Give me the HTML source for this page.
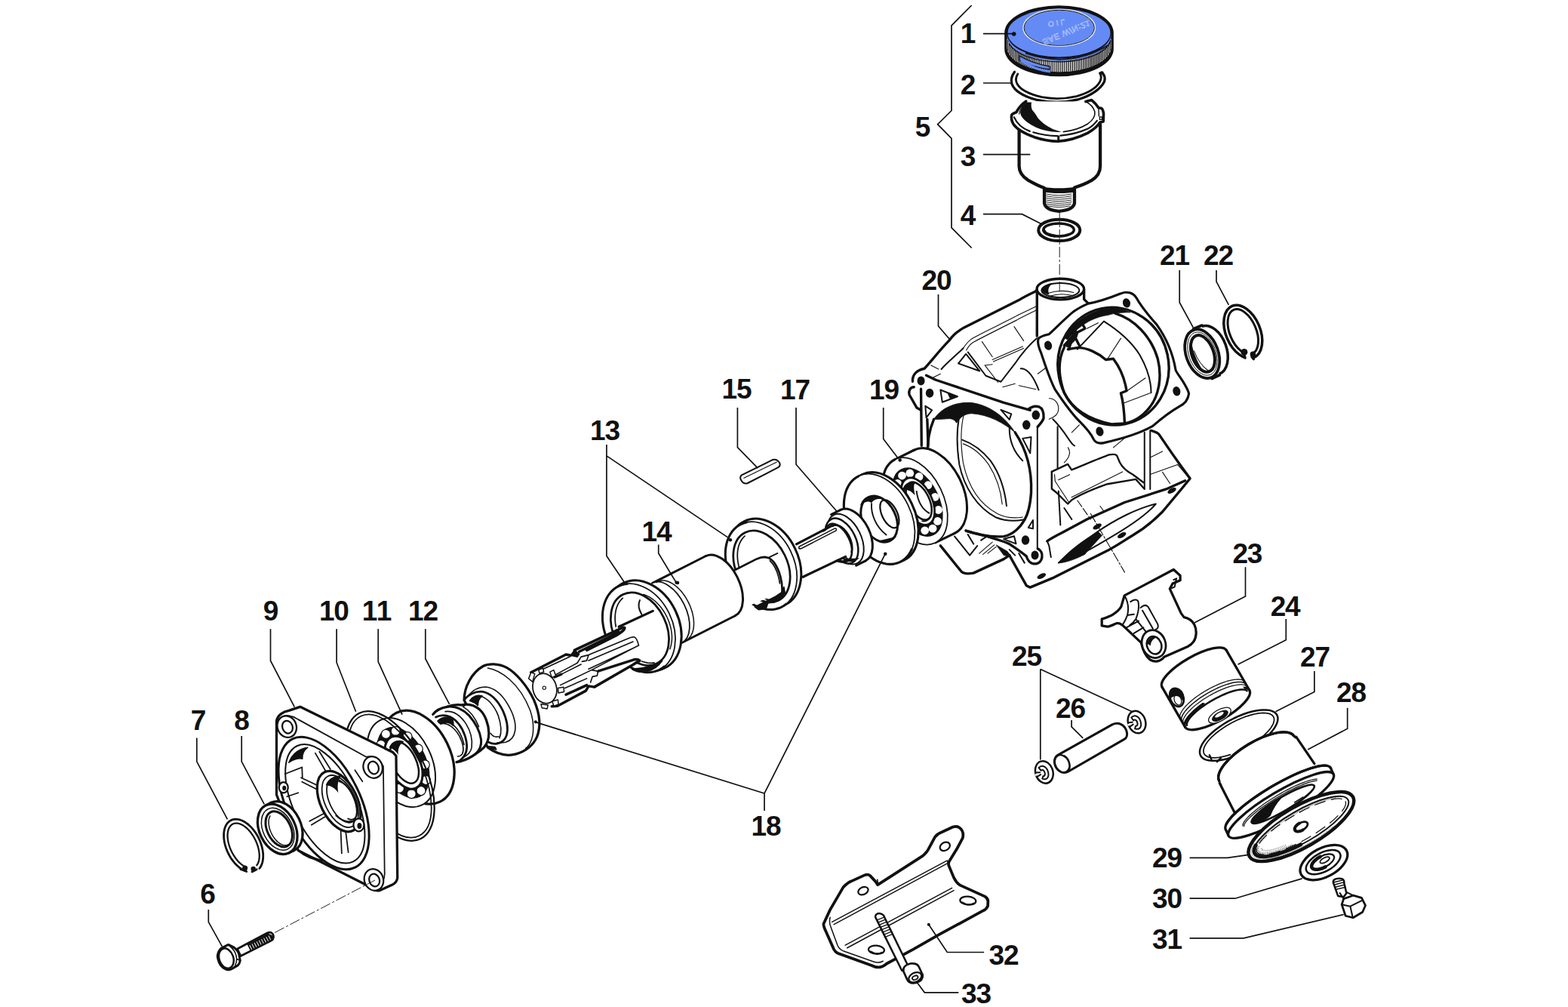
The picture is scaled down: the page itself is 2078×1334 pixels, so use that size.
<!DOCTYPE html>
<html lang="en">
<head>
<meta charset="utf-8">
<title>Exploded parts diagram</title>
<style>
html,body{margin:0;padding:0;background:#fff;}
body{width:2078px;height:1334px;overflow:hidden;}
svg{display:block;}
.k{fill:none;stroke:#111;stroke-width:2.6;stroke-linecap:round;stroke-linejoin:round;}
.m{fill:none;stroke:#111;stroke-width:1.8;stroke-linecap:round;stroke-linejoin:round;}
.t{fill:none;stroke:#111;stroke-width:1.1;stroke-linecap:round;stroke-linejoin:round;}
.l{fill:none;stroke:#111;stroke-width:1.7;stroke-linecap:butt;stroke-linejoin:miter;}
.w{fill:#fff;}
.K{fill:none;stroke:#111;stroke-width:13.5;stroke-linecap:round;stroke-linejoin:round;}
.M{fill:none;stroke:#111;stroke-width:8;stroke-linecap:round;stroke-linejoin:round;}
.T{fill:none;stroke:#111;stroke-width:4.5;stroke-linecap:round;stroke-linejoin:round;}
.W{fill:#fff;stroke:#111;stroke-width:12.5;stroke-linejoin:round;}
.WM{fill:#fff;stroke:#111;stroke-width:7.5;stroke-linejoin:round;}
.B{fill:#111;stroke:#111;stroke-width:3;stroke-linejoin:round;}
.H{fill:#111;stroke:none;}
.b{fill:#111;stroke:none;}
.c{fill:none;stroke:#222;stroke-width:1;stroke-dasharray:14 3 3 3;}
text{font-family:"Liberation Sans",sans-serif;font-weight:bold;font-size:37px;fill:#111;text-anchor:middle;letter-spacing:-1.2px;}
</style>
</head>
<body>
<svg width="2078" height="1334" viewBox="0 0 2078 1334">
<rect x="0" y="0" width="2078" height="1334" fill="#fff"/>
<!-- 10_cap.svg -->
<g id="cap1">
<path class="b" d="M1331.2,43.5 A72.3,36.3 0 0 1 1475.8,43.5 V65.0 A72.3,36.3 0 0 1 1331.2,65.0 Z"/>
<path fill="#fff" d="M1334.2,47.5 A69.3,33.3 0 0 0 1472.8,47.5 V62.0 A69.3,33.3 0 0 1 1334.2,62.0 Z"/>
<path d="M1335.2,53.1V67.6M1337.3,57.3V71.8M1339.4,60.1V74.6M1341.4,62.3V76.8M1343.5,64.2V78.7M1345.6,65.8V80.3M1347.7,67.2V81.7M1349.8,68.5V83.0M1351.8,69.7V84.2M1353.9,70.8V85.3M1356.0,71.7V86.2M1358.1,72.7V87.2M1360.2,73.5V88.0M1362.2,74.3V88.8M1364.3,75.0V89.5M1366.5,75.6V90.1M1368.7,76.3V90.8M1370.9,76.9V91.4M1373.2,77.5V92.0M1375.6,78.0V92.5M1377.9,78.5V93.0M1380.3,78.9V93.4M1382.8,79.3V93.8M1385.3,79.6V94.1M1387.8,79.9V94.4M1390.3,80.2V94.7M1392.9,80.4V94.9M1395.4,80.6V95.1M1398.0,80.7V95.2M1400.6,80.8V95.3M1403.2,80.8V95.3M1405.8,80.8V95.3M1408.4,80.7V95.2M1411.0,80.6V95.1M1413.6,80.4V94.9M1416.2,80.2V94.7M1418.7,80.0V94.5M1421.3,79.7V94.2M1423.8,79.3V93.8M1426.3,79.0V93.5M1428.7,78.5V93.0M1431.1,78.0V92.5M1433.5,77.5V92.0M1435.9,76.9V91.4M1438.2,76.3V90.8M1440.4,75.7V90.2M1442.6,75.0V89.5M1444.8,74.3V88.8M1446.8,73.5V88.0M1448.9,72.6V87.1M1451.0,71.7V86.2M1453.1,70.8V85.3M1455.2,69.7V84.2M1457.2,68.5V83.0M1459.3,67.2V81.7M1461.4,65.8V80.3M1463.5,64.2V78.7M1465.6,62.3V76.8M1467.6,60.1V74.6M1469.7,57.3V71.8M1471.8,53.1V67.6" fill="none" stroke="#111" stroke-width="1.3"/>
<path d="M1351,74 Q1368,84 1391,88 L1391,92 Q1368,89 1351,80 Z" fill="#648af5" stroke="#111" stroke-width="1.4"/>
<path d="M1353,80 Q1372,93 1392,95" fill="none" stroke="#648af5" stroke-width="3"/>
<ellipse cx="1403.5" cy="43.5" rx="69.5" ry="33.5" fill="#648af5" stroke="#111" stroke-width="3"/>
<path d="M1334.5,44.5 A69.0,33.0 0 0 0 1472.5,44.5 V47.5 A69.0,33.0 0 0 1 1334.5,47.5 Z" fill="#648af5"/>
<path d="M1337.0,57.5 A69.0,33.0 0 0 0 1472.0,53.5" fill="none" stroke="#111" stroke-width="1.3"/>
<path d="M1359,70.5 Q1380,78 1405,78.6 Q1440,78 1468,60" fill="none" stroke="#111" stroke-width="1.6"/>
<ellipse cx="1403.7" cy="36.8" rx="47.3" ry="24.1" fill="none" stroke="#fff" stroke-width="2.2" opacity="0.8"/>
<ellipse cx="1403.7" cy="36.8" rx="46.6" ry="23.5" fill="none" stroke="#111" stroke-width="1"/>
<text transform="translate(1401,27) rotate(-8) scale(1,-1)" style="font-size:10px;font-weight:normal;fill:none;stroke:#eef2ff;stroke-width:0.3;letter-spacing:3px;text-anchor:middle">OIL</text>
<text transform="translate(1412,39.5) rotate(-23) scale(1,-1)" style="font-size:11px;font-weight:normal;fill:none;stroke:#eef2ff;stroke-width:0.3;letter-spacing:0.6px;text-anchor:middle">SAE W/N:21</text>
<circle cx="1343.7" cy="45" r="2.8" class="b"/>
</g>
<!-- 11_cup.svg -->
<g id="cupgroup" transform="translate(1300,85) scale(0.10121)" fill="none" stroke="#111" stroke-linecap="round" stroke-linejoin="round">
<!-- ring 2 -->
<path stroke-width="32" d="M440,102 C405,150 390,210 405,260 C440,350 560,420 720,465 C900,505 1100,505 1280,460 C1450,410 1570,320 1615,230 C1630,180 1615,135 1580,108"/>
<path stroke-width="28" d="M482,128 C455,170 452,215 475,260 C520,340 640,395 800,432 C940,458 1100,455 1250,420 C1400,380 1510,310 1555,235 C1578,190 1575,150 1562,128"/>
<path stroke-width="36" d="M1560,118 L1590,112"/>
<!-- cup body -->
<path stroke-width="42" fill="#fff" d="M500,860 V1336 C500,1410 540,1470 620,1520 C700,1565 770,1600 830,1620 V1820 C840,1880 900,1915 1020,1925 C1150,1915 1215,1880 1225,1820 V1615 C1290,1595 1380,1560 1450,1520 C1530,1470 1562,1410 1562,1336 V790"/>
<path stroke="none" fill="#111" d="M812,1606 C900,1630 1140,1630 1240,1606 V1672 C1140,1695 920,1695 812,1672 Z"/>
<path stroke-width="9" d="M855,1700 Q1020,1735 1185,1700 M855,1726 Q1020,1761 1185,1726 M855,1752 Q1020,1787 1185,1752 M855,1778 Q1020,1813 1185,1778 M855,1804 Q1020,1839 1185,1804 M860,1830 Q1020,1865 1180,1830 M875,1856 Q1020,1888 1165,1856"/>
<!-- rim -->
<path stroke-width="36" fill="#fff" d="M590,487 C540,520 490,580 462,630 C430,640 410,645 402,665 C395,700 405,750 425,785 C470,850 560,905 700,955 C800,988 900,1008 1010,1010 C1150,1000 1290,955 1400,900 C1470,860 1530,810 1560,760 L1602,750 L1606,645 C1600,610 1590,585 1578,578 L1540,570 C1520,540 1480,495 1450,470 L1372,490"/>
<path stroke-width="22" d="M435,695 C470,775 540,840 640,878 M685,892 C780,920 900,938 1000,940 M1040,935 C1160,925 1300,890 1400,845 C1450,820 1490,780 1520,740"/>
<path stroke-width="30" d="M1015,945 V1000"/>
<path stroke-width="14" d="M1555,690 h30 v35 h-30 z M1540,570 L1545,680"/>
<path stroke="none" fill="#111" d="M600,500 L662,500 C655,540 660,575 672,600 C700,630 730,670 745,705 C790,760 860,810 940,850 C990,870 1030,880 1060,887 C1000,892 920,885 850,870 C760,850 680,810 600,755 C550,715 520,680 515,640 C515,590 550,535 600,500 Z"/>
<path stroke-width="16" d="M1372,490 C1430,520 1470,560 1490,620 C1500,680 1470,730 1400,780 C1320,830 1200,870 1080,886"/>
<path stroke-width="12" d="M590,500 C545,540 510,595 500,650"/>
<!-- o-ring 4 -->
<ellipse cx="1025" cy="2173" rx="272" ry="140" stroke-width="40" fill="#fff"/>
<ellipse cx="1018" cy="2168" rx="200" ry="84" stroke-width="34" fill="#fff"/>
<path stroke-width="42" d="M822,2175 C835,2210 890,2238 960,2248"/>
</g>
<path class="c" d="M1404.2,281 V386"/>
<g id="brace5">
<path class="l" d="M1287.7,7 L1261,33.8 V146.5 L1242.6,164.7 L1261,183.3 V301.7 L1287.7,328.5"/>
<path class="l" d="M1303,44.6 H1344 M1303,110 H1340 M1303,204.6 H1365.3 M1303,283.7 H1354.5 L1380.3,296.7"/>
</g>
<!-- 20_housing.svg -->
<g id="housing20" transform="translate(1190,340) scale(0.25038)">
<!-- top outline -->
<path class="K" d="M78,660 C75,625 100,600 140,592 C170,560 230,485 270,445 C290,420 300,405 350,375 C420,340 520,290 640,230 C680,205 720,188 736,180"/>
<!-- filler neck -->
<path class="K" d="M736,420 V175 M985,175 V225 L1008,248"/>
<ellipse class="K" cx="860" cy="172" rx="125" ry="55"/>
<ellipse class="M" cx="860" cy="178" rx="100" ry="38"/>
<path class="H" d="M762,178 C765,150 800,140 830,140 C800,150 790,170 800,200 C780,200 765,190 762,178 Z"/>
<path class="T" d="M790,195 Q860,170 930,190 M800,210 Q860,190 920,205"/>
<!-- top surface inner lines -->
<path class="T" d="M735,262 C700,280 650,300 620,318 C540,360 450,400 390,435 C370,450 355,470 345,485"/>
<path class="T" d="M735,282 C700,300 660,318 630,335 C550,375 460,420 400,452 C385,460 370,480 362,495"/>
<path class="M" d="M230,595 C260,560 310,520 345,485"/>
<path class="M" d="M320,565 L360,515 L432,605 Z"/>
<path class="M" d="M370,505 L465,630 L545,662 L620,565 C650,520 700,460 735,432"/>
<path class="T" d="M445,450 L500,530 M615,370 L665,445 M500,545 L660,475 M505,555 L665,485 M460,575 L530,665 M555,690 L620,672 M640,682 L730,702 M460,575 L500,570"/>
<path class="M" d="M650,592 C690,590 720,640 745,705"/>
<path class="T" d="M740,620 L780,590 M175,575 L215,595 M185,640 L225,620"/>
<!-- face A top edge -->
<path class="K" d="M150,628 L200,652 L560,772 L700,812"/>
<path class="H" d="M260,718 L315,738 L275,752 Z"/>
<path class="M" d="M225,705 L315,740 L235,770 Z M145,790 L180,812 L150,852 Z M545,810 L600,832 L590,862 Z M660,962 L705,955 L700,1040 Z"/>
<!-- face A bosses -->
<path class="K" d="M85,690 C65,690 55,710 60,730 L100,800 L122,812"/>
<path class="K" d="M122,700 L125,1000 M155,860 L160,1000"/>
<ellipse class="H" cx="122" cy="657" rx="20" ry="24"/>
<ellipse class="H" cx="168" cy="722" rx="21" ry="24"/>
<path class="K" d="M690,808 C705,795 725,788 746,794 C765,802 773,820 771,855 C765,875 752,885 740,900"/>
<path class="M" d="M738,900 V1545"/>
<ellipse class="H" cx="730" cy="838" rx="21" ry="25"/>
<ellipse class="H" cx="680" cy="890" rx="21" ry="25"/>
<!-- bore A -->
<path class="B" d="M190,860 C230,800 300,770 380,772 C480,780 570,850 620,930 C560,880 480,835 390,830 C350,832 330,850 310,880 C300,860 280,855 260,858 C230,860 210,862 190,860 Z"/>
<path class="K" d="M190,860 C165,920 155,980 158,1040"/>
<path class="K" d="M620,930 C680,1020 710,1130 705,1250 C700,1320 690,1360 670,1392"/>
<path class="M" d="M330,825 C310,900 310,1000 325,1100 C350,1220 420,1330 520,1380 C570,1400 620,1400 665,1392"/>
<path class="T" d="M350,830 C332,900 332,1000 345,1090 C370,1210 430,1310 530,1362 C580,1385 620,1385 660,1378"/>
<path class="M" d="M340,969 C400,990 450,1030 490,1080 C540,1150 565,1230 575,1319"/>
<path class="T" d="M345,990 C400,1010 445,1050 480,1100 C525,1170 545,1240 552,1310"/>
<path class="M" d="M590,910 C590,980 620,1040 660,1080"/>
<!-- face B flange -->
<path class="W" d="M1008,248 C1060,240 1130,215 1180,195 C1210,182 1245,190 1262,218 C1290,270 1330,315 1370,360 C1420,430 1455,510 1470,600 C1480,625 1530,680 1540,725 C1535,760 1520,778 1490,792 C1450,815 1390,860 1350,895 C1300,925 1200,960 1090,985 C1065,990 1045,985 1035,965 C1020,930 990,900 960,870 C920,830 870,760 830,700 C800,640 775,560 758,510 C745,480 735,450 745,432 C760,418 780,415 800,410 C830,385 880,330 930,290 C960,270 990,255 1008,248 Z"/>
<ellipse class="H" cx="1210" cy="245" rx="20" ry="25" transform="rotate(-15 1210 245)"/>
<ellipse class="H" cx="795" cy="470" rx="20" ry="25" transform="rotate(-15 795 470)"/>
<ellipse class="H" cx="1475" cy="712" rx="20" ry="25" transform="rotate(-15 1475 712)"/>
<ellipse class="H" cx="1068" cy="925" rx="20" ry="25" transform="rotate(-15 1068 925)"/>
<!-- bore B -->
<ellipse class="K" cx="1140" cy="580" rx="293" ry="312" transform="rotate(-12 1140 580)"/>
<path class="B" d="M880,430 C930,340 1020,285 1120,272 C1160,270 1200,280 1230,295 C1180,295 1140,300 1110,310 C1030,320 950,370 900,440 Z"/>
<path class="K" d="M1150,300 C1250,330 1340,420 1375,540 C1400,640 1380,740 1330,800 C1290,850 1240,875 1200,882"/>
<path class="K" d="M880,480 C850,540 845,620 880,720 C920,800 1000,860 1130,886 L1200,882"/>
<path class="M" d="M950,490 L1090,342 C1150,380 1230,440 1280,520 C1320,590 1340,660 1340,720"/>
<path class="K" d="M900,490 L950,482 C1000,480 1060,510 1100,545 L1140,540 C1170,580 1200,640 1210,710 L1180,722 C1190,760 1198,820 1200,882"/>
<path class="T" d="M1110,540 L1180,432 M1210,712 L1310,642 M1195,775 L1335,722"/>
<path class="K" d="M930,365 L970,345 L990,380 L950,400 L940,430 L960,470 M880,470 L925,420 L905,490"/>
<path class="B" d="M930,365 L950,400 L940,440 L900,480 L880,470 L920,420 Z"/>
<path class="T" d="M1000,380 L1060,350"/>
<!-- between faces -->
<path class="T" d="M800,750 C830,750 850,775 850,805 C850,830 830,850 800,860"/>
<path class="M" d="M820,860 C850,890 880,930 900,960 C920,990 930,1000 935,1000"/>
<path class="T" d="M920,930 L960,890 M1140,1010 L1200,960"/>
<path class="M" d="M845,900 V1120 M1305,930 V1230 M1335,920 V1230"/>
<path class="K" d="M1340,920 C1360,925 1380,935 1385,945 L1450,1040 L1500,1110 L1545,1172"/>
<!-- lower pocket -->
<path class="M" style="stroke-width:9.5" d="M814,1138 L899,1098 L919,1128 C960,1113 1060,1068 1119,1048 C1140,1044 1155,1048 1159,1053 L1174,1088 C1185,1110 1210,1135 1244,1153 L1300,1195"/>
<path class="M" style="stroke-width:9.5" d="M814,1138 L814,1228 L839,1248 L899,1308 L919,1288 C950,1268 1010,1238 1109,1203 L1259,1178 L1304,1228"/>
<path class="T" d="M829,1153 L832,1188 L904,1298"/>
<path class="T" d="M849,1181 L909,1153 M919,1273 L1189,1138 M900,1010 C920,1040 900,1070 880,1090"/>
<path class="T" d="M1340,1060 L1400,1030 M1340,1150 L1480,1100 L1540,1170 M1400,1140 L1440,1200"/>
<path class="M" d="M850,1240 L860,1420 M880,1330 L920,1390"/>
<!-- bottom face C -->
<path class="K" d="M590,1580 L680,1740 L700,1750 L820,1700 C900,1660 1000,1610 1100,1560 C1150,1535 1200,1500 1250,1470 C1300,1440 1350,1400 1400,1350 L1500,1230 L1545,1175"/>
<path class="K" d="M790,1505 C820,1485 850,1470 870,1460 L1000,1390 L1200,1300 L1420,1230 L1520,1185"/>
<path class="M" d="M790,1505 L800,1530 L810,1590"/>
<path class="M" d="M850,1620 C900,1570 980,1510 1050,1460 C1150,1390 1270,1330 1365,1308 C1330,1350 1240,1420 1100,1500 C1000,1560 900,1610 850,1620 Z"/>
<path class="B" d="M850,1620 C900,1560 980,1500 1060,1455 L1080,1475 C1040,1520 1000,1560 990,1575 C940,1600 890,1620 850,1620 Z"/>
<ellipse class="H" cx="760" cy="1690" rx="25" ry="12" transform="rotate(-28 760 1690)"/>
<ellipse class="H" cx="1055" cy="1428" rx="25" ry="12" transform="rotate(-28 1055 1428)"/>
<ellipse class="H" cx="1185" cy="1474" rx="25" ry="12" transform="rotate(-28 1185 1474)"/>
<ellipse class="H" cx="1450" cy="1238" rx="25" ry="12" transform="rotate(-28 1450 1238)"/>
<path class="T" stroke-dasharray="40 12" d="M950,1290 L1020,1390 M1070,1320 L1100,1360"/>
<path class="T" stroke-dasharray="50 10 10 10" d="M1020,1360 L1200,1670"/>
<!-- BR boss and face A bottom -->
<path class="K" d="M740,1545 C775,1560 770,1625 725,1625 C700,1625 685,1605 680,1585 C650,1560 620,1540 590,1520 C520,1490 430,1470 360,1450"/>
<path class="K" d="M360,1450 C420,1470 500,1485 560,1480 C610,1470 650,1430 670,1392"/>
<ellipse class="H" cx="725" cy="1580" rx="20" ry="24"/>
<ellipse class="H" cx="675" cy="1500" rx="21" ry="25"/>
<path class="M" d="M690,1434 L715,1394 L715,1439 Z M560,1494 L615,1479 L625,1519 Z"/>
<!-- foot -->
<path class="K" d="M225,1529 L330,1659 C340,1675 360,1682 400,1674 L560,1600 L590,1580"/>
<path class="M" d="M300,1480 L380,1580 L420,1530 M370,1470 L400,1520 M440,1500 L470,1480"/>
<path class="T" d="M430,1570 L500,1510 M450,1575 L510,1525 M475,1570 L520,1535"/>
<path class="B" d="M520,1525 L580,1560 L600,1590 L560,1580 Z"/>
<path class="M" d="M590,1550 L620,1580 M640,1570 L670,1620"/>
</g>
<!-- 21_seal.svg -->
<g id="seal21" transform="translate(1520,360) scale(0.12516)">
<g transform="translate(673,830) rotate(-20)"><ellipse cx="0" cy="0" rx="170" ry="268" fill="#fff" stroke="#111" stroke-width="28"/></g>
<path d="M490,608 L578,570 L768,1090 L680,1128 Z" fill="#fff" stroke="none"/>
<path d="M492,606 L582,568 M688,1130 L770,1092" fill="none" stroke="#111" stroke-width="30" stroke-linecap="round"/>
<g transform="translate(585,868) rotate(-20)">
<ellipse cx="0" cy="0" rx="170" ry="268" fill="#fff" stroke="#111" stroke-width="30"/>
<ellipse cx="2" cy="0" rx="143" ry="238" fill="none" stroke="#111" stroke-width="7"/>
<ellipse cx="6" cy="0" rx="115" ry="202" fill="#fff" stroke="#111" stroke-width="32"/>
<path d="M-95,-120 C-110,-40 -100,80 -50,180 C-75,90 -85,-20 -70,-120 Z" fill="#111"/>
<path d="M-70,-60 C-70,30 -50,120 0,190" fill="none" stroke="#111" stroke-width="8"/>
</g>
</g>
<g id="clip22" transform="translate(1520,360) scale(0.12516)">
<g transform="translate(1017,635) rotate(-23)">
<ellipse cx="0" cy="0" rx="182" ry="296" fill="none" stroke="#111" stroke-width="28"/>
<ellipse cx="0" cy="0" rx="140" ry="252" fill="none" stroke="#111" stroke-width="24"/>
</g>
<path d="M1040,800 L1100,790 L1120,960 L1050,960 Z" fill="#fff"/>
<circle cx="1030" cy="850" r="36" fill="#111"/>
<circle cx="1122" cy="872" r="30" fill="#111"/>
<path d="M1030,880 L1040,910 M1110,900 L1130,925" stroke="#111" stroke-width="26" stroke-linecap="round"/>
</g>
<path class="l" d="M1563.2,358 V400.7 L1581.3,433.8 M1612,358 V373.1 L1628.3,403.8"/>
<!-- 25_bearing.svg -->
<g id="bearing19" transform="translate(1080,580) scale(0.12516)">
<ellipse cx="1265" cy="570" rx="300" ry="490" transform="rotate(-26 1265 570)" fill="#fff" stroke="#111" stroke-width="25" stroke-linejoin="round"/>
<path d="M845,230 L1050,130 L1480,1010 L1275,1110 Z" fill="#fff" stroke="#111" stroke-width="25" stroke-linejoin="round"/>
<path d="M855,250 L1050,155 L1460,990 L1265,1090 Z" fill="#fff" stroke="none"/>
<ellipse cx="1265" cy="570" rx="286" ry="476" transform="rotate(-26 1265 570)" fill="#fff" stroke="none"/>
<ellipse cx="1060" cy="670" rx="300" ry="490" transform="rotate(-26 1060 670)" fill="#fff" stroke="#111" stroke-width="14"/>
<path d="M832,876 L810,839 L790,802 L773,763 L757,723 L744,683 L733,643 L725,603 L719,564 L716,525 L715,488 L717,452 L722,417 L729,385 L739,354 L751,326 L766,301 L783,279 L802,259 L823,243 L845,230" fill="none" stroke="#111" stroke-width="25" stroke-linecap="round"/>
<ellipse cx="1085" cy="680" rx="228" ry="385" transform="rotate(-26 1085 680)" fill="#111" stroke="#111" stroke-width="10"/>
<ellipse cx="1085" cy="680" rx="228" ry="385" transform="rotate(-26 1085 680)" fill="none" stroke="#fff" stroke-width="0"/>
<circle cx="870" cy="603" r="43" fill="#fff"/>
<circle cx="875" cy="482" r="43" fill="#fff"/>
<circle cx="923" cy="400" r="43" fill="#fff"/>
<circle cx="1005" cy="375" r="43" fill="#fff"/>
<circle cx="1103" cy="411" r="43" fill="#fff"/>
<circle cx="1198" cy="501" r="43" fill="#fff"/>
<circle cx="1271" cy="627" r="43" fill="#fff"/>
<circle cx="1307" cy="763" r="43" fill="#fff"/>
<circle cx="1298" cy="882" r="43" fill="#fff"/>
<circle cx="1247" cy="960" r="43" fill="#fff"/>
<circle cx="1164" cy="981" r="43" fill="#fff"/>
<ellipse cx="1090" cy="672" rx="148" ry="268" transform="rotate(-26 1090 672)" fill="#fff" stroke="#111" stroke-width="22"/>
<ellipse cx="1100" cy="668" rx="110" ry="215" transform="rotate(-26 1100 668)" fill="#fff" stroke="#111" stroke-width="20"/>
<path d="M925,560 C940,480 1000,455 1060,480 C1040,500 1050,560 1060,610 C1020,560 980,540 925,560 Z" fill="#111"/>
<path d="M1075,560 C1090,680 1140,760 1215,800" fill="none" stroke="#111" stroke-width="15"/>
<path d="M1130,880 C1170,890 1210,870 1230,830" fill="none" stroke="#111" stroke-width="15"/>
<circle cx="900" cy="235" r="18" fill="#111"/>
</g>
<g id="washer18a" transform="translate(1080,580) scale(0.12516)">
<ellipse cx="720" cy="842" rx="338" ry="505" transform="rotate(-26 720 842)" fill="#fff" stroke="#111" stroke-width="25" stroke-linejoin="round"/>
<ellipse cx="682" cy="860" rx="338" ry="505" transform="rotate(-26 682 860)" fill="#fff" stroke="#111" stroke-width="14"/>
<path d="M1026,1179 L1011,1209 L994,1236 L974,1260 L953,1281 L929,1299 L903,1314 L876,1325 L847,1333 L817,1337 L786,1337 L754,1334 L722,1327 L689,1317 L656,1303 L624,1286 L592,1265 L560,1242 L530,1215 L500,1186 L472,1154 L446,1121 L421,1085 L399,1047 L378,1008 L360,968 L344,927 L331,886 L321,844 L313,802 L308,761 L306,721 L307,682 L311,644 L317,608 L326,573 L338,541 L353,511 L370,484 L390,460 L411,439 L435,421 L461,406" fill="none" stroke="#111" stroke-width="25" stroke-linecap="round"/>
<ellipse cx="680" cy="860" rx="176" ry="258" transform="rotate(-26 680 860)" fill="#fff" stroke="#111" stroke-width="24"/>
<path d="M478,720 C500,640 560,605 640,612 C700,620 720,640 740,660 C690,640 630,640 600,690 C560,660 520,680 478,720 Z" fill="#111"/>
<ellipse cx="790" cy="805" rx="80" ry="160" transform="rotate(-26 790 805)" fill="none" stroke="#111" stroke-width="18"/>
<path d="M600,690 C590,800 640,940 760,1030" fill="none" stroke="#111" stroke-width="15"/>
<path d="M690,1090 C760,1110 820,1090 850,1050 C800,1070 750,1075 690,1090 Z" fill="#111" stroke="#111" stroke-width="10"/>
<circle cx="745" cy="1228" r="18" fill="#111"/>
</g>
<!-- 35_shaftX.svg -->
<g id="shaftX" transform="translate(720,480) scale(0.25038)">
<path d="M1330,965 L1530,860 L1640,1010 L1370,1140 Z" fill="#fff"/>
<path d="M1355,975 L1540,880 Q1556,876 1550,890 L1365,985 Q1348,988 1355,975 Z" fill="#fff" stroke="#111" stroke-width="6" stroke-linecap="round" stroke-linejoin="round"/>
<ellipse cx="1640" cy="915" rx="88" ry="150" transform="rotate(-26 1640 915)" fill="#fff" stroke="#111" stroke-width="12" stroke-linecap="round" stroke-linejoin="round"/>
<path d="M1574.2,780.2 L1524.2,805.2 L1655.8,1074.8 L1705.8,1049.8 Z" fill="#fff" stroke="none"/><path d="M1574.2,780.2 L1524.2,805.2 M1655.8,1074.8 L1705.8,1049.8" fill="none" stroke="#111" stroke-width="12" stroke-linecap="round" stroke-linejoin="round"/>
<ellipse cx="1600" cy="935" rx="82" ry="142" transform="rotate(-26 1600 935)" fill="#fff" stroke="#111" stroke-width="8" stroke-linecap="round" stroke-linejoin="round"/>
<ellipse cx="1580" cy="945" rx="74" ry="128" transform="rotate(-26 1580 945)" fill="#fff" stroke="#111" stroke-width="10" stroke-linecap="round" stroke-linejoin="round"/>
<ellipse cx="1562" cy="955" rx="60" ry="108" transform="rotate(-26 1562 955)" fill="#fff" stroke="#111" stroke-width="10" stroke-linecap="round" stroke-linejoin="round"/>
<path d="M1606.1,1038.2 L1603.1,1042.6 L1599.8,1046.3 L1596.0,1049.4 L1591.8,1051.9 L1587.4,1053.6 L1582.6,1054.7 L1577.5,1055.1 L1572.3,1054.7 L1566.8,1053.6 L1561.2,1051.9 L1555.6,1049.5 L1549.8,1046.3 L1544.0,1042.6 L1538.3,1038.2 L1532.7,1033.3 L1527.1,1027.8 L1521.7,1021.8 L1516.5,1015.4 L1511.6,1008.6 L1506.9,1001.4 L1502.6,993.9 L1498.6,986.1 L1494.9,978.2 L1491.7,970.1 L1488.9,962.0 L1486.6,953.9 L1484.7,945.9 L1483.3,937.9 L1482.4,930.2 L1482.0,922.7 L1482.0,915.5 L1482.6,908.6 L1483.7,902.2 L1485.3,896.2 L1487.4,890.7 L1489.9,885.8" fill="none" stroke="#111" stroke-width="12" stroke-linecap="round" stroke-linejoin="round"/>
<path d="M1590,1040 C1610,1055 1640,1055 1660,1040 C1640,1042 1610,1042 1590,1040 Z" fill="#111" stroke="#111" stroke-width="8"/>
<path d="M1420,930 L1540,868 L1600,950 L1610,1015 L1470,1085 Z" fill="#fff"/>
<path d="M1340,962 L1528,864 M1375,1135 L1600,1028" fill="none" stroke="#111" stroke-width="13" stroke-linecap="round" stroke-linejoin="round"/>
<path d="M1355,975 L1540,880 Q1556,876 1550,890 L1365,985 Q1348,988 1355,975 Z" fill="#fff" stroke="#111" stroke-width="6" stroke-linecap="round" stroke-linejoin="round"/>
<path d="M1531.8,866.3 L1535.5,864.1 L1539.6,862.5 L1543.9,861.5 L1548.5,861.2 L1553.3,861.5 L1558.2,862.4 L1563.3,864.0 L1568.5,866.2 L1573.7,868.9 L1578.9,872.3 L1584.1,876.2 L1589.2,880.6 L1594.2,885.6 L1599.1,890.9 L1603.7,896.7 L1608.2,902.9 L1612.4,909.4 L1616.3,916.1 L1619.9,923.1 L1623.2,930.2 L1626.1,937.5 L1628.6,944.8 L1630.7,952.1 L1632.4,959.3 L1633.6,966.5 L1634.4,973.4 L1634.8,980.2 L1634.7,986.7 L1634.1,992.9 L1633.1,998.7 L1631.6,1004.1" fill="none" stroke="#111" stroke-width="10" stroke-linecap="round" stroke-linejoin="round"/>
<ellipse cx="1172" cy="1062" rx="178" ry="246" transform="rotate(-26 1172 1062)" fill="#fff" stroke="#111" stroke-width="12" stroke-linecap="round" stroke-linejoin="round"/>
<ellipse cx="1153" cy="1076" rx="174" ry="244" transform="rotate(-26 1153 1076)" fill="#fff" stroke="#111" stroke-width="7" stroke-linecap="round" stroke-linejoin="round"/>
<path d="M1285.5,1278.7 L1273.2,1287.8 L1260.0,1295.3 L1245.9,1301.1 L1231.2,1305.2 L1215.8,1307.6 L1200.0,1308.2 L1183.8,1307.0 L1167.4,1304.1 L1150.9,1299.4 L1134.4,1293.0 L1118.0,1285.0 L1102.0,1275.4 L1086.2,1264.3 L1071.0,1251.7 L1056.5,1237.8 L1042.6,1222.7 L1029.6,1206.4 L1017.6,1189.2 L1006.5,1171.1 L996.6,1152.3 L987.9,1132.9 L980.4,1113.0 L974.3,1092.9 L969.5,1072.7 L966.1,1052.4 L964.1,1032.4 L963.5,1012.7 L964.4,993.5 L966.8,974.9 L970.5,957.0 L975.7,940.1 L982.2,924.2 L990.0,909.5 L999.0,896.0 L1009.2,883.9 L1020.5,873.3 L1032.8,864.2 L1046.0,856.7 L1060.1,850.9 L1074.8,846.8" fill="none" stroke="#111" stroke-width="12" stroke-linecap="round" stroke-linejoin="round"/>
<ellipse cx="1156" cy="1080" rx="136" ry="200" transform="rotate(-26 1156 1080)" fill="#fff" stroke="#111" stroke-width="11" stroke-linecap="round" stroke-linejoin="round"/>
<path d="M1230.4,1255.8 L1219.1,1257.2 L1207.5,1257.4 L1195.6,1256.1 L1183.5,1253.5 L1171.3,1249.6 L1159.0,1244.3 L1146.8,1237.8 L1134.8,1230.1 L1123.0,1221.2 L1111.6,1211.2 L1100.6,1200.2 L1090.1,1188.3 L1080.2,1175.6 L1070.9,1162.0 L1062.4,1147.9 L1054.8,1133.2 L1047.9,1118.1 L1042.0,1102.7 L1037.1,1087.2 L1033.1,1071.5 L1030.2,1055.9 L1028.3,1040.4 L1027.5,1025.3 L1027.7,1010.5 L1029.0,996.3 L1031.4,982.7 L1034.8,969.8 L1039.2,957.7 L1044.7,946.6 L1051.0,936.4 L1058.2,927.3 L1066.3,919.4" fill="none" stroke="#111" stroke-width="7" stroke-linecap="round" stroke-linejoin="round"/>
<path d="M1010,1100 L1130,1040 C1170,1025 1200,1030 1220,1060 C1250,1100 1265,1160 1262,1215 L1060,1300 L1020,1200 Z" fill="#fff"/>
<path d="M1015,1098 L1130,1040 C1170,1022 1200,1030 1222,1060 C1250,1100 1268,1160 1264,1220" fill="none" stroke="#111" stroke-width="11" stroke-linecap="round" stroke-linejoin="round"/>
<path d="M1195,1032 L1240,1010 M1200,1050 C1225,1075 1245,1120 1252,1170" fill="none" stroke="#111" stroke-width="7" stroke-linecap="round" stroke-linejoin="round"/>
<path d="M1119,1294 L1159,1274 L1229,1239 L1259,1219 L1274,1189 L1279,1219 L1249,1259 L1189,1274 L1179,1304 L1139,1309 Z" fill="#111" stroke="#111" stroke-width="6" stroke-linejoin="round"/>
<circle cx="990" cy="940" r="9" fill="#111"/>
<path d="M580,1165 L850,1030 C900,1015 950,1030 990,1075 C1030,1120 1060,1200 1060,1280 L1040,1400 L700,1500 Z" fill="#fff"/>
<path d="M1048,598 L1215,515 Q1240,510 1252,535 Q1256,550 1240,558 L1080,640 Q1060,645 1048,625 Q1038,608 1048,598 Z" fill="#fff" stroke="#111" stroke-width="8" stroke-linecap="round" stroke-linejoin="round"/>
<path d="M1062,612 L1235,528" fill="none" stroke="#111" stroke-width="5" stroke-linecap="round" stroke-linejoin="round"/>
</g>
<!-- 45_shaftY.svg -->
<g id="shaftY" transform="translate(560,700) scale(0.25038)">
<ellipse cx="1577" cy="304" rx="100" ry="176" transform="rotate(-26 1577 304)" fill="#fff" stroke="#111" stroke-width="12" stroke-linecap="round" stroke-linejoin="round"/>
<path d="M1217.8,288.8 L1499.8,145.8 L1654.2,462.2 L1372.2,605.2 Z" fill="#fff" stroke="none"/><path d="M1217.8,288.8 L1499.8,145.8 M1654.2,462.2 L1372.2,605.2" fill="none" stroke="#111" stroke-width="12" stroke-linecap="round" stroke-linejoin="round"/>
<ellipse cx="1295" cy="447" rx="100" ry="176" transform="rotate(-26 1295 447)" fill="#fff" stroke="#111" stroke-width="7" stroke-linecap="round" stroke-linejoin="round"/>
<path d="M1237.2,285.7 L1244.6,281.4 L1252.6,278.3 L1261.0,276.3 L1270.0,275.6 L1279.3,276.0 L1288.9,277.7 L1298.7,280.6 L1308.8,284.7 L1318.9,290.0 L1329.0,296.3 L1339.0,303.7 L1348.9,312.1 L1358.6,321.5 L1368.0,331.7 L1377.0,342.8 L1385.6,354.5 L1393.7,366.8 L1401.2,379.7 L1408.1,393.0 L1414.3,406.7 L1419.8,420.5 L1424.6,434.5 L1428.6,448.5 L1431.7,462.4 L1434.0,476.1 L1435.4,489.5 L1435.9,502.5 L1435.6,514.9 L1434.4,526.8 L1432.3,538.0 L1429.3,548.4 L1425.6,558.0 L1421.0,566.6 L1415.6,574.2 L1409.5,580.8" fill="none" stroke="#111" stroke-width="6" stroke-linecap="round" stroke-linejoin="round"/>
<circle cx="1350" cy="288" r="9" fill="#111"/>
<ellipse cx="1172" cy="514" rx="184" ry="250" transform="rotate(-26 1172 514)" fill="#fff" stroke="#111" stroke-width="12" stroke-linecap="round" stroke-linejoin="round"/>
<ellipse cx="1145" cy="527" rx="178" ry="246" transform="rotate(-26 1145 527)" fill="#fff" stroke="#111" stroke-width="7" stroke-linecap="round" stroke-linejoin="round"/>
<path d="M1279.0,731.2 L1266.4,740.5 L1252.8,748.1 L1238.5,754.1 L1223.4,758.3 L1207.8,760.8 L1191.6,761.5 L1175.1,760.4 L1158.4,757.5 L1141.6,752.9 L1124.8,746.5 L1108.1,738.5 L1091.8,728.9 L1075.8,717.7 L1060.4,705.1 L1045.6,691.2 L1031.5,675.9 L1018.4,659.6 L1006.2,642.2 L995.0,624.0 L985.0,605.0 L976.2,585.5 L968.7,565.5 L962.6,545.1 L957.8,524.7 L954.4,504.3 L952.5,484.0 L952.1,464.1 L953.1,444.7 L955.6,425.8 L959.6,407.8 L964.9,390.6 L971.6,374.5 L979.7,359.6 L988.9,345.9 L999.4,333.6 L1011.0,322.8 L1023.6,313.5 L1037.2,305.9 L1051.5,299.9 L1066.6,295.7 L1082.2,293.2" fill="none" stroke="#111" stroke-width="12" stroke-linecap="round" stroke-linejoin="round"/>
<ellipse cx="1150" cy="532" rx="140" ry="203" transform="rotate(-26 1150 532)" fill="#fff" stroke="#111" stroke-width="11" stroke-linecap="round" stroke-linejoin="round"/>
<path d="M1226.0,710.7 L1214.5,712.3 L1202.5,712.5 L1190.3,711.3 L1177.8,708.7 L1165.3,704.8 L1152.7,699.5 L1140.2,693.0 L1127.9,685.2 L1115.8,676.2 L1104.1,666.1 L1092.9,655.0 L1082.1,642.9 L1072.0,629.9 L1062.6,616.2 L1054.0,601.9 L1046.2,587.0 L1039.2,571.7 L1033.2,556.0 L1028.2,540.1 L1024.3,524.2 L1021.3,508.3 L1019.5,492.6 L1018.8,477.2 L1019.1,462.2 L1020.6,447.6 L1023.1,433.7 L1026.7,420.6 L1031.3,408.3 L1036.9,396.9 L1043.5,386.5 L1051.0,377.2 L1059.4,369.1" fill="none" stroke="#111" stroke-width="7" stroke-linecap="round" stroke-linejoin="round"/>
<path d="M1168.7,349.7 L1180.4,353.6 L1192.2,358.8 L1203.9,365.2 L1215.5,372.8 L1226.8,381.5 L1237.9,391.3 L1248.5,402.1 L1258.6,413.7 L1268.2,426.2 L1277.1,439.3 L1285.4,453.1 L1292.9,467.4 L1299.5,482.1 L1305.3,497.1 L1310.2,512.2 L1314.1,527.4 L1317.0,542.6 L1319.0,557.6 L1319.9,572.3 L1319.8,586.6 L1318.6,600.4 L1316.5,613.6 L1313.3,626.0 L1309.2,637.7" fill="none" stroke="#111" stroke-width="6" stroke-linecap="round" stroke-linejoin="round"/>
<path d="M1110,745 C1160,775 1230,755 1268,700 C1230,725 1170,742 1110,745 Z" fill="#111" stroke="#111" stroke-width="8" stroke-linejoin="round"/>
<path d="M1060,525 L1225,442 L1290,640 L1150,705 Z" fill="#fff"/>
<path d="M1150,380 C1140,400 1145,430 1160,455" fill="none" stroke="#111" stroke-width="8" stroke-linecap="round" stroke-linejoin="round"/>
<g transform="translate(519.2,399.4) scale(0.49987)">
<path d="M1000,250 L1400,72 L1520,480 L1240,610 Z" fill="#fff"/>
<path d="M1040,242 L1400,75" fill="none" stroke="#111" stroke-width="26" stroke-linecap="round" stroke-linejoin="round"/>
<path d="M85,790 L110,725 L480,535 L530,545 L570,490 L1060,260 L1100,250 L1200,350 L1230,370 L1250,440 L1260,600 L1180,650 L780,880 L720,870 L690,920 L390,1080 L330,1085 L270,1110 L215,1090 L150,960 Z" fill="#fff"/>
<path d="M110,725 L480,535 L530,545 M570,490 L1060,260 C1080,250 1100,245 1102,255 C1098,275 1085,290 1010,335 L700,490 M620,505 L1040,300" fill="none" stroke="#111" stroke-width="28" stroke-linecap="round" stroke-linejoin="round"/>
<path d="M530,545 L570,490 L620,530 L600,560 Z" fill="#111" stroke="#111" stroke-width="14" stroke-linejoin="round"/>
<path d="M240,690 L520,560 M350,760 L600,625 L640,560 L720,540 L700,600 L650,610 M720,540 L1130,370 C1160,355 1190,348 1205,352 C1225,360 1240,400 1250,440 L1190,470 L720,690 M720,600 L1190,400 M440,740 L640,640 M420,860 L750,700 L1190,470 M470,890 L700,790 M750,700 L820,712 L810,760 L760,770 L740,830" fill="none" stroke="#111" stroke-width="13" stroke-linecap="round" stroke-linejoin="round"/>
<path d="M330,1085 L390,1080 L690,920 L720,870 L780,880 L1180,650 C1210,630 1240,610 1255,605 M480,960 L700,860 M820,712 L1200,590 C1230,585 1250,590 1260,600 M360,775 L430,745" fill="none" stroke="#111" stroke-width="28" stroke-linecap="round" stroke-linejoin="round"/>
<path d="M85,790 L110,725 L150,740 L125,825 Z M190,700 L235,680 L245,720 L200,735 Z M310,720 L350,700 L372,760 L330,780 Z M395,890 L455,880 L460,930 L400,942 Z M335,1030 L395,1015 L400,1065 L350,1080 Z M215,1060 L290,1070 L280,1110 L225,1100 Z" fill="#fff" stroke="#111" stroke-width="12" stroke-linecap="round" stroke-linejoin="round"/>
<ellipse cx="255" cy="895" rx="125" ry="160" transform="rotate(-15 255 895)" fill="#fff" stroke="#111" stroke-width="14" stroke-linecap="round" stroke-linejoin="round"/>
<circle cx="250" cy="888" r="17" fill="#fff" stroke="#111" stroke-width="9" stroke-linecap="round" stroke-linejoin="round"/>
</g>
<g transform="translate(-79.9,639) scale(0.49987)">
<path d="M600,540 C600,400 680,250 800,180 C860,150 960,150 1050,195 C1150,250 1270,390 1340,540 C1400,680 1415,820 1370,930 C1330,1020 1250,1080 1150,1110 C1060,1135 960,1120 850,1040 Z" fill="#fff" stroke="#111" stroke-width="26" stroke-linecap="round" stroke-linejoin="round"/>
<path d="M850,200 C920,210 1000,250 1080,320 C1170,400 1250,520 1300,650 C1340,770 1345,900 1300,990 C1285,1020 1268,1040 1250,1050" fill="none" stroke="#111" stroke-width="12" stroke-linecap="round" stroke-linejoin="round"/>
<path d="M640,500 C690,430 760,400 830,400 C920,410 1000,480 1060,580 C1120,680 1150,780 1140,860 C1130,930 1090,970 1040,985 C1010,992 980,992 950,990" fill="none" stroke="#111" stroke-width="13" stroke-linecap="round" stroke-linejoin="round"/>
<path d="M600,540 C640,480 720,440 800,450 C890,470 960,550 1010,650 C1050,740 1070,840 1050,910 C1035,960 1000,990 950,1000 C920,1005 890,1000 860,985" fill="none" stroke="#111" stroke-width="22" stroke-linecap="round" stroke-linejoin="round"/>
<path d="M660,545 C690,500 740,480 790,495 C760,520 745,555 745,595 C720,570 690,555 660,545 Z M850,1030 C880,1050 910,1060 940,1062 C935,1050 930,1042 925,1035 C900,1035 875,1030 850,1030 Z" fill="#111" stroke="#111" stroke-width="14" stroke-linejoin="round"/>
<path d="M780,500 C850,520 920,600 960,700 C990,790 1000,880 975,940 M880,890 C900,920 930,935 965,925" fill="none" stroke="#111" stroke-width="13" stroke-linecap="round" stroke-linejoin="round"/>
<circle cx="1357" cy="770" r="17" fill="#111"/>
<path d="M270,690 C300,650 360,620 420,610 C470,590 540,585 600,595 C650,580 700,590 760,635 C820,690 860,790 862,890 C862,950 845,1000 810,1040 C790,1060 760,1085 720,1110 C680,1140 620,1170 570,1185 L520,1195 L300,800 Z" fill="#fff"/>
<path d="M270,690 C300,650 360,620 420,610 C470,590 540,585 600,595 M580,590 C650,575 710,595 765,640 C820,690 860,790 862,890 C862,950 845,1000 810,1040 C790,1060 760,1085 720,1110 C680,1140 620,1170 570,1185 L520,1195" fill="none" stroke="#111" stroke-width="26" stroke-linecap="round" stroke-linejoin="round"/>
<path d="M420,610 C500,600 580,630 650,700 C720,780 770,880 780,960 C785,1020 765,1070 720,1110" fill="none" stroke="#111" stroke-width="24" stroke-linecap="round" stroke-linejoin="round"/>
<path d="M590,610 C660,650 720,730 755,820 M400,660 C480,650 560,700 620,790 C670,870 690,960 680,1040 C670,1090 640,1120 600,1140" fill="none" stroke="#111" stroke-width="13" stroke-linecap="round" stroke-linejoin="round"/>
<path d="M300,720 C340,700 400,695 450,715 C520,750 580,830 610,920 C635,1000 635,1080 600,1130 C580,1160 550,1185 520,1195" fill="none" stroke="#111" stroke-width="22" stroke-linecap="round" stroke-linejoin="round"/>
<path d="M320,760 C350,730 400,715 450,722 C480,740 490,770 485,810 C450,775 400,765 350,790 C335,780 325,770 320,760 Z" fill="#111" stroke="#111" stroke-width="14" stroke-linejoin="round"/>
<path d="M485,800 C540,850 580,920 600,1010 M350,790 C420,770 500,830 550,920 C590,1000 600,1070 580,1110 C570,1125 550,1135 530,1135" fill="none" stroke="#111" stroke-width="13" stroke-linecap="round" stroke-linejoin="round"/>
</g>
</g>
<!-- 50_flangeZ.svg -->
<g id="flangeZ" transform="translate(220,880) scale(0.25038)">
<ellipse cx="1335" cy="492" rx="170" ry="262" transform="rotate(-26 1335 492)" fill="#fff" stroke="#111" stroke-width="13" stroke-linecap="round" stroke-linejoin="round"/>
<ellipse cx="1245" cy="520" rx="160" ry="250" transform="rotate(-26 1245 520)" fill="#fff" stroke="#111" stroke-width="8" stroke-linecap="round" stroke-linejoin="round"/>
<ellipse cx="1255" cy="520" rx="120" ry="200" transform="rotate(-26 1255 520)" fill="#111" stroke="#111" stroke-width="4"/>
<circle cx="1143" cy="507" r="24" fill="#fff" stroke="#111" stroke-width="5"/>
<circle cx="1138" cy="425" r="24" fill="#fff" stroke="#111" stroke-width="5"/>
<circle cx="1164" cy="369" r="24" fill="#fff" stroke="#111" stroke-width="5"/>
<circle cx="1215" cy="353" r="24" fill="#fff" stroke="#111" stroke-width="5"/>
<circle cx="1278" cy="382" r="24" fill="#fff" stroke="#111" stroke-width="5"/>
<circle cx="1335" cy="447" r="24" fill="#fff" stroke="#111" stroke-width="5"/>
<circle cx="1371" cy="531" r="24" fill="#fff" stroke="#111" stroke-width="5"/>
<circle cx="1376" cy="613" r="24" fill="#fff" stroke="#111" stroke-width="5"/>
<circle cx="1350" cy="669" r="24" fill="#fff" stroke="#111" stroke-width="5"/>
<circle cx="1299" cy="685" r="24" fill="#fff" stroke="#111" stroke-width="5"/>
<circle cx="1236" cy="656" r="24" fill="#fff" stroke="#111" stroke-width="5"/>
<circle cx="1179" cy="591" r="24" fill="#fff" stroke="#111" stroke-width="5"/>
<ellipse cx="1258" cy="520" rx="84" ry="150" transform="rotate(-26 1258 520)" fill="#fff" stroke="#111" stroke-width="12" stroke-linecap="round" stroke-linejoin="round"/>
<ellipse cx="1262" cy="520" rx="62" ry="118" transform="rotate(-26 1262 520)" fill="#fff" stroke="#111" stroke-width="10" stroke-linecap="round" stroke-linejoin="round"/>
<path d="M1180,440 C1200,400 1240,395 1260,410 C1235,420 1225,450 1230,480 C1215,455 1200,445 1180,440 Z" fill="#111"/>
<ellipse cx="1185" cy="591" rx="190" ry="370" transform="rotate(-26 1185 591)" fill="none" stroke="#111" stroke-width="9" stroke-linecap="round" stroke-linejoin="round"/>
<ellipse cx="1185" cy="591" rx="174" ry="352" transform="rotate(-26 1185 591)" fill="none" stroke="#111" stroke-width="7" stroke-linecap="round" stroke-linejoin="round"/>
<path d="M585,300 C590,270 620,250 650,245 L710,225 L1200,465 L1218,485 L1225,1130 C1222,1150 1210,1160 1200,1165 L1130,1197 C1110,1200 1090,1192 1075,1175 L700,985 L585,690 Z" fill="#fff" stroke="#111" stroke-width="13" stroke-linecap="round" stroke-linejoin="round"/>
<path d="M588,310 C595,280 625,268 650,272 C670,275 690,285 700,292 L1060,490 C1090,480 1130,500 1150,540 L1157,1100 C1160,1150 1130,1180 1095,1180 C1075,1178 1062,1168 1055,1155" fill="none" stroke="#111" stroke-width="7" stroke-linecap="round" stroke-linejoin="round"/>
<ellipse cx="640" cy="330" rx="50" ry="58" transform="rotate(-20 640 330)" fill="#fff" stroke="#111" stroke-width="9" stroke-linecap="round" stroke-linejoin="round"/>
<ellipse cx="642" cy="333" rx="27" ry="34" transform="rotate(-20 640 330)" fill="#fff" stroke="#111" stroke-width="9" stroke-linecap="round" stroke-linejoin="round"/>
<ellipse cx="1095" cy="545" rx="50" ry="58" transform="rotate(-20 1095 545)" fill="#fff" stroke="#111" stroke-width="9" stroke-linecap="round" stroke-linejoin="round"/>
<ellipse cx="1097" cy="548" rx="27" ry="34" transform="rotate(-20 1095 545)" fill="#fff" stroke="#111" stroke-width="9" stroke-linecap="round" stroke-linejoin="round"/>
<ellipse cx="1100" cy="1140" rx="50" ry="58" transform="rotate(-20 1100 1140)" fill="#fff" stroke="#111" stroke-width="9" stroke-linecap="round" stroke-linejoin="round"/>
<ellipse cx="1102" cy="1143" rx="27" ry="34" transform="rotate(-20 1100 1140)" fill="#fff" stroke="#111" stroke-width="9" stroke-linecap="round" stroke-linejoin="round"/>
<ellipse cx="835" cy="735" rx="193" ry="378" transform="rotate(-26 835 735)" fill="#fff" stroke="#111" stroke-width="12" stroke-linecap="round" stroke-linejoin="round"/>
<ellipse cx="842" cy="738" rx="165" ry="340" transform="rotate(-26 842 738)" fill="#fff" stroke="#111" stroke-width="8" stroke-linecap="round" stroke-linejoin="round"/>
<path d="M650,520 C670,470 710,445 750,440 C730,455 720,475 722,500 C700,495 670,505 650,520 Z" fill="#111" stroke="#111" stroke-width="6" stroke-linejoin="round"/>
<path d="M700,985 C740,1010 790,1030 830,1040 C790,1035 740,1020 700,985 Z" fill="#111" stroke="#111" stroke-width="10" stroke-linejoin="round"/>
<path d="M790,470 L845,565 M812,462 L870,555 M715,600 L800,640 M720,622 L795,660 M760,830 L835,790 M770,850 L840,808 M925,880 L930,1000 M950,875 L965,995 M630,580 L720,545 M720,545 L722,600 M640,700 L700,680 M1000,560 L1040,620" fill="none" stroke="#111" stroke-width="7" stroke-linecap="round" stroke-linejoin="round"/>
<ellipse cx="915" cy="725" rx="97" ry="172" transform="rotate(-26 915 725)" fill="#fff" stroke="#111" stroke-width="13" stroke-linecap="round" stroke-linejoin="round"/>
<ellipse cx="922" cy="725" rx="80" ry="148" transform="rotate(-26 922 725)" fill="#fff" stroke="#111" stroke-width="7" stroke-linecap="round" stroke-linejoin="round"/>
<ellipse cx="930" cy="722" rx="64" ry="125" transform="rotate(-26 930 722)" fill="#fff" stroke="#111" stroke-width="7" stroke-linecap="round" stroke-linejoin="round"/>
<path d="M845,640 C860,600 900,585 930,590 C910,605 905,640 912,680 C895,655 870,640 845,640 Z" fill="#111"/>
<path d="M915.7,619.3 L921.0,620.8 L926.6,623.0 L932.3,625.9 L938.1,629.6 L944.0,634.0 L949.8,639.0 L955.6,644.6 L961.4,650.8 L967.0,657.6 L972.4,664.8 L977.7,672.4 L982.7,680.4 L987.4,688.7 L991.7,697.2 L995.8,705.9 L999.4,714.7 L1002.6,723.6 L1005.4,732.4 L1007.7,741.1 L1009.6,749.7 L1010.9,758.0 L1011.8,766.1 L1012.1,773.8 L1012.0,781.1 L1011.3,787.9 L1010.1,794.2 L1008.5,800.0 L1006.3,805.1 L1003.7,809.6 L1000.6,813.4 L997.1,816.5 L993.2,818.9 L989.0,820.5 L984.4,821.3 L979.5,821.4 L974.3,820.7 L969.0,819.2 L963.4,817.0" fill="none" stroke="#111" stroke-width="8" stroke-linecap="round" stroke-linejoin="round"/>
<path d="M900,800 C930,830 970,840 1000,825" fill="none" stroke="#111" stroke-width="8" stroke-linecap="round" stroke-linejoin="round"/>
<ellipse cx="622" cy="652" rx="24" ry="28" fill="#fff" stroke="#111" stroke-width="9" stroke-linecap="round" stroke-linejoin="round"/><ellipse cx="626" cy="655" rx="10" ry="13" fill="#111"/>
<ellipse cx="1020" cy="850" rx="28" ry="34" fill="#fff" stroke="#111" stroke-width="9" stroke-linecap="round" stroke-linejoin="round"/><ellipse cx="1024" cy="855" rx="12" ry="16" fill="#111"/>
<ellipse cx="618" cy="858" rx="95" ry="140" transform="rotate(-26 618 858)" fill="#fff" stroke="#111" stroke-width="13" stroke-linecap="round" stroke-linejoin="round"/>
<path d="M528.6,746.2 L556.6,732.2 L679.4,983.8 L651.4,997.8 Z" fill="#fff" stroke="none"/><path d="M528.6,746.2 L556.6,732.2 M679.4,983.8 L651.4,997.8" fill="none" stroke="#111" stroke-width="13" stroke-linecap="round" stroke-linejoin="round"/>
<ellipse cx="590" cy="872" rx="95" ry="140" transform="rotate(-26 590 872)" fill="#fff" stroke="#111" stroke-width="13" stroke-linecap="round" stroke-linejoin="round"/>
<ellipse cx="592" cy="872" rx="78" ry="118" transform="rotate(-26 592 872)" fill="none" stroke="#111" stroke-width="6" stroke-linecap="round" stroke-linejoin="round"/>
<ellipse cx="598" cy="872" rx="62" ry="100" transform="rotate(-26 598 872)" fill="#fff" stroke="#111" stroke-width="12" stroke-linecap="round" stroke-linejoin="round"/>
<path d="M645.3,954.7 L641.1,956.4 L636.6,957.4 L631.9,957.8 L626.9,957.5 L621.8,956.6 L616.6,955.0 L611.2,952.8 L605.9,950.0 L600.5,946.6 L595.1,942.6 L589.8,938.1 L584.7,933.1 L579.7,927.6 L574.9,921.7 L570.3,915.4 L566.0,908.8 L562.0,901.9 L558.3,894.8 L554.9,887.5 L552.0,880.1 L549.4,872.6 L547.3,865.1 L545.6,857.7 L544.4,850.4 L543.6,843.2 L543.3,836.3 L543.4,829.6 L544.1,823.3 L545.2,817.3 L546.7,811.8 L548.7,806.7 L551.1,802.1" fill="none" stroke="#111" stroke-width="6" stroke-linecap="round" stroke-linejoin="round"/>
<path d="M426.5,1096.5 L417.5,1093.1 L408.4,1088.6 L399.3,1083.2 L390.3,1076.9 L381.5,1069.6 L372.8,1061.6 L364.5,1052.7 L356.5,1043.2 L348.9,1033.0 L341.8,1022.3 L335.1,1011.1 L329.1,999.5 L323.7,987.6 L318.9,975.4 L314.8,963.2 L311.5,951.0 L308.9,938.8 L307.1,926.8 L306.0,915.0 L305.8,903.6 L306.3,892.6 L307.6,882.1 L309.7,872.2 L312.6,863.0 L316.2,854.5 L320.5,846.8 L325.5,840.0 L331.2,834.1 L337.4,829.1 L344.2,825.2 L351.5,822.3 L359.3,820.4 L367.4,819.6 L375.9,819.8 L384.6,821.1 L393.5,823.5 L402.5,826.9 L411.6,831.4 L420.7,836.8 L429.7,843.1 L438.5,850.4 L447.2,858.4 L455.5,867.3 L463.5,876.8 L471.1,887.0 L478.2,897.7 L484.9,908.9 L490.9,920.5 L496.3,932.4 L501.1,944.6 L505.2,956.8 L508.5,969.0 L511.1,981.2 L512.9,993.2 L514.0,1005.0 L514.2,1016.4 L513.7,1027.4 L512.4,1037.9 L510.3,1047.8 L507.4,1057.0 L503.8,1065.5 L499.5,1073.2 L494.5,1080.0" fill="none" stroke="#111" stroke-width="11" stroke-linecap="round" stroke-linejoin="round"/>
<path d="M427.1,1075.0 L419.9,1071.8 L412.5,1067.9 L405.2,1063.0 L397.9,1057.5 L390.6,1051.1 L383.6,1044.1 L376.7,1036.4 L370.1,1028.2 L363.8,1019.4 L357.8,1010.2 L352.2,1000.6 L347.1,990.7 L342.4,980.5 L338.3,970.2 L334.7,959.9 L331.7,949.5 L329.3,939.2 L327.5,929.1 L326.3,919.1 L325.7,909.6 L325.8,900.3 L326.6,891.6 L327.9,883.4 L329.9,875.7 L332.6,868.7 L335.8,862.4 L339.5,856.8 L343.8,852.0 L348.6,848.1 L353.9,845.0 L359.6,842.7 L365.7,841.4 L372.1,840.9 L378.8,841.4 L385.7,842.8 L392.9,845.0 L400.1,848.2 L407.5,852.1 L414.8,857.0 L422.1,862.5 L429.4,868.9 L436.4,875.9 L443.3,883.6 L449.9,891.8 L456.2,900.6 L462.2,909.8 L467.8,919.4 L472.9,929.3 L477.6,939.5 L481.7,949.8 L485.3,960.1 L488.3,970.5 L490.7,980.8 L492.5,990.9 L493.7,1000.9 L494.3,1010.4 L494.2,1019.7 L493.4,1028.4 L492.1,1036.6 L490.1,1044.3 L487.4,1051.3 L484.2,1057.6 L480.5,1063.2" fill="none" stroke="#111" stroke-width="9" stroke-linecap="round" stroke-linejoin="round"/>
<circle cx="418" cy="1078" r="14" fill="#111"/><circle cx="462" cy="1082" r="13" fill="#111"/>
<path d="M395,1085 L420,1092 M455,1098 L480,1085" fill="none" stroke="#111" stroke-width="11" stroke-linecap="round" stroke-linejoin="round"/>
</g>
<path class="l" d="M260.8,977.6 L260.8,1008.9 L301.4,1085.3 M320.2,975.1 L320.2,1008.9 L350.2,1065.3 M358.5,833.2 L358.5,875.2 L390.3,936.6 M446.1,833.2 L446.1,877.7 L471.6,942.8 M501.2,833.2 L501.2,876.5 L533.0,946.6 M563.8,833.2 L563.8,872.7 L595.6,932.8"/>
<!-- 60_partsQ.svg -->
<g id="partsQ" transform="translate(1330,740) scale(0.25038)">
<path d="M640,195 L900,58 L935,90 L935,115 L895,132 L880,160 L940,290 L955,310 C980,315 1000,330 1010,350 C1025,380 1020,420 1005,440 C995,455 985,460 975,465 L850,520 C830,545 800,550 775,535 C755,520 740,495 728,445 L640,362 C625,345 610,340 598,342 C580,350 565,358 550,360 L520,355 L520,320 C545,312 565,305 580,295 C600,282 615,268 622,255 Z" fill="#fff" stroke="#111" stroke-width="13" stroke-linecap="round" stroke-linejoin="round"/>
<path d="M640,195 C660,230 665,260 655,300 C648,320 640,335 630,350 M655,300 L690,295 M672,228 C690,215 705,215 712,225 C718,250 712,290 700,320 C690,335 680,345 668,352 M700,320 L760,395 M725,260 C740,245 755,245 765,255 L815,345 C822,362 815,372 805,375 M735,275 L790,370 M650,365 L715,330 M690,395 L740,365 M880,160 L905,150 L915,105 L900,112" fill="none" stroke="#111" stroke-width="8" stroke-linecap="round" stroke-linejoin="round"/>
<ellipse cx="795" cy="452" rx="62" ry="75" transform="rotate(-20 795 452)" fill="#fff" stroke="#111" stroke-width="11" stroke-linecap="round" stroke-linejoin="round"/>
<ellipse cx="797" cy="458" rx="38" ry="48" transform="rotate(-20 797 458)" fill="#fff" stroke="#111" stroke-width="10" stroke-linecap="round" stroke-linejoin="round"/>
<path d="M760,450 C765,420 790,405 815,415 C795,420 780,435 778,460 Z" fill="#111"/>
<ellipse cx="1009" cy="582" rx="196" ry="62" transform="rotate(-29.8 1009 582)" fill="#fff" stroke="#111" stroke-width="13" stroke-linecap="round" stroke-linejoin="round"/>
<path d="M1179.1,484.6 L1301.6,697.1 L961.4,891.9 L838.9,679.4 Z" fill="#fff" stroke="none"/><path d="M1179.1,484.6 L1301.6,697.1 M961.4,891.9 L838.9,679.4" fill="none" stroke="#111" stroke-width="13" stroke-linecap="round" stroke-linejoin="round"/>
<ellipse cx="1131.5" cy="794.5" rx="196" ry="62" transform="rotate(-29.8 1131.5 794.5)" fill="#fff" stroke="#111" stroke-width="13" stroke-linecap="round" stroke-linejoin="round"/>
<path d="M860,690 L1010,540 L1170,500 L1280,700 L1130,790 Z" fill="#fff"/>
<path d="M970.2,881.7 L969.8,876.7 L970.6,871.1 L972.6,865.0 L975.9,858.3 L980.3,851.1 L985.9,843.5 L992.6,835.5 L1000.3,827.3 L1009.1,818.7 L1018.7,810.0 L1029.3,801.1 L1040.6,792.2 L1052.6,783.4 L1065.2,774.6 L1078.3,765.9 L1091.8,757.5 L1105.7,749.4 L1119.7,741.6 L1133.8,734.2 L1147.9,727.2 L1161.8,720.8 L1175.6,715.0 L1189.0,709.7 L1201.9,705.1 L1214.3,701.2 L1226.1,697.9 L1237.2,695.4 L1247.5,693.7 L1256.9,692.7 L1265.3,692.6 L1272.7,693.1 L1279.0,694.5 L1284.3,696.6 L1288.3,699.5" fill="none" stroke="#111" stroke-width="10" stroke-linecap="round" stroke-linejoin="round"/>
<path d="M949.2,862.1 L950.4,855.3 L952.9,847.9 L956.7,839.9 L961.9,831.4 L968.3,822.6 L975.9,813.3 L984.7,803.8 L994.6,794.1 L1005.5,784.2 L1017.3,774.3 L1029.9,764.5 L1043.2,754.7 L1057.2,745.1 L1071.7,735.8 L1086.6,726.9 L1101.8,718.3 L1117.1,710.2 L1132.5,702.6 L1147.8,695.6 L1162.8,689.3 L1177.6,683.7 L1191.9,678.8 L1205.7,674.7 L1218.8,671.5 L1231.1,669.0 L1242.6,667.5 L1253.1,666.8 L1262.6,666.9 L1271.0,668.0 L1278.2,669.9 L1284.1,672.7" fill="none" stroke="#111" stroke-width="5" stroke-linecap="round" stroke-linejoin="round"/>
<path d="M941.2,850.6 L941.8,844.1 L943.7,836.9 L947.0,829.2 L951.6,821.0 L957.4,812.4 L964.5,803.4 L972.7,794.0 L982.0,784.4 L992.4,774.7 L1003.7,764.9 L1015.9,755.1 L1028.8,745.3 L1042.4,735.7 L1056.6,726.3 L1071.2,717.2 L1086.2,708.5 L1101.3,700.2 L1116.6,692.4 L1131.8,685.2 L1146.9,678.6 L1161.8,672.6 L1176.2,667.4 L1190.2,662.9 L1203.6,659.2 L1216.3,656.3 L1228.2,654.2 L1239.2,653.1 L1249.2,652.7 L1258.2,653.3 L1266.1,654.7 L1272.7,657.0 L1278.1,660.1" fill="none" stroke="#111" stroke-width="6" stroke-linecap="round" stroke-linejoin="round"/>
<path d="M933.2,836.6 L933.8,830.1 L935.7,822.9 L939.0,815.2 L943.6,807.0 L949.4,798.4 L956.5,789.4 L964.7,780.0 L974.0,770.4 L984.4,760.7 L995.7,750.9 L1007.9,741.1 L1020.8,731.3 L1034.4,721.7 L1048.6,712.3 L1063.2,703.2 L1078.2,694.5 L1093.3,686.2 L1108.6,678.4 L1123.8,671.2 L1138.9,664.6 L1153.8,658.6 L1168.2,653.4 L1182.2,648.9 L1195.6,645.2 L1208.3,642.3 L1220.2,640.2 L1231.2,639.1 L1241.2,638.7 L1250.2,639.3 L1258.1,640.7 L1264.7,643.0 L1270.1,646.1" fill="none" stroke="#111" stroke-width="5" stroke-linecap="round" stroke-linejoin="round"/>
<ellipse cx="1144" cy="829.5" rx="66" ry="30" transform="rotate(-29.8 1144 829.5)" fill="#fff" stroke="#111" stroke-width="5" stroke-linecap="round" stroke-linejoin="round"/>
<ellipse cx="1146" cy="832" rx="46" ry="20" transform="rotate(-29.8 1146 832)" fill="#111" stroke="#111" stroke-width="4"/>
<ellipse cx="1142" cy="826" rx="26" ry="9" transform="rotate(-29.8 1142 826)" fill="#fff" stroke="none"/>
<ellipse cx="916.5" cy="734.5" rx="35" ry="50" transform="rotate(-22 916.5 734.5)" fill="#fff" stroke="#111" stroke-width="11" stroke-linecap="round" stroke-linejoin="round"/>
<path d="M884,735 C880,705 900,682 925,690 C948,700 955,725 950,750 C935,722 910,715 884,735 Z" fill="#111" stroke="#111" stroke-width="6" stroke-linejoin="round"/>
<ellipse cx="922" cy="748" rx="18" ry="28" transform="rotate(-22 922 748)" fill="none" stroke="#111" stroke-width="5" stroke-linecap="round" stroke-linejoin="round"/>
<path d="M1198.7,1054.1 L1181.3,1059.1 L1164.4,1063.2 L1148.1,1066.3 L1132.6,1068.5 L1117.9,1069.6 L1104.1,1069.7 L1091.5,1068.7 L1080.0,1066.8 L1069.8,1063.8 L1060.9,1059.9 L1053.4,1055.0 L1047.3,1049.2 L1042.8,1042.5 L1039.8,1035.0 L1038.4,1026.8 L1038.5,1017.8 L1040.2,1008.2 L1043.5,998.1 L1048.3,987.5 L1054.6,976.5 L1062.3,965.1 L1071.5,953.6 L1081.9,941.9 L1093.6,930.1 L1106.5,918.4 L1120.4,906.8 L1135.3,895.4 L1150.9,884.4 L1167.4,873.7 L1184.4,863.4 L1201.8,853.8 L1219.6,844.7 L1237.6,836.3 L1255.6,828.7 L1273.6,821.9 L1291.3,815.9 L1308.7,810.9 L1325.6,806.8 L1341.9,803.7 L1357.4,801.5 L1372.1,800.4 L1385.9,800.3 L1398.5,801.3 L1410.0,803.2 L1420.2,806.2 L1429.1,810.1 L1436.6,815.0 L1442.7,820.8 L1447.2,827.5 L1450.2,835.0 L1451.6,843.2 L1451.5,852.2 L1449.8,861.8 L1446.5,871.9 L1441.7,882.5 L1435.4,893.5 L1427.7,904.9 L1418.5,916.4 L1408.1,928.1 L1396.4,939.9 L1383.5,951.6 L1369.6,963.2 L1354.7,974.6 L1339.1,985.6 L1322.6,996.3 L1305.6,1006.6 L1288.2,1016.2 L1270.4,1025.3 L1252.4,1033.7 L1234.4,1041.3" fill="none" stroke="#111" stroke-width="10" stroke-linecap="round" stroke-linejoin="round"/>
<path d="M1199.7,1037.1 L1184.1,1041.9 L1168.9,1046.0 L1154.3,1049.2 L1140.4,1051.5 L1127.2,1052.9 L1115.0,1053.5 L1103.8,1053.1 L1093.6,1051.9 L1084.6,1049.7 L1076.8,1046.7 L1070.3,1042.8 L1065.2,1038.1 L1061.3,1032.7 L1058.9,1026.4 L1057.9,1019.5 L1058.4,1012.0 L1060.2,1003.8 L1063.5,995.1 L1068.1,986.0 L1074.1,976.5 L1081.4,966.7 L1089.9,956.6 L1099.6,946.4 L1110.4,936.0 L1122.3,925.7 L1135.0,915.5 L1148.7,905.3 L1163.0,895.5 L1178.0,885.9 L1193.4,876.7 L1209.3,867.9 L1225.5,859.6 L1241.8,852.0 L1258.1,844.9 L1274.3,838.5 L1290.3,832.9 L1305.9,828.1 L1321.1,824.0 L1335.7,820.8 L1349.6,818.5 L1362.8,817.1 L1375.0,816.5 L1386.2,816.9 L1396.4,818.1 L1405.4,820.3 L1413.2,823.3 L1419.7,827.2 L1424.8,831.9 L1428.7,837.3 L1431.1,843.6 L1432.1,850.5 L1431.6,858.0 L1429.8,866.2 L1426.5,874.9 L1421.9,884.0 L1415.9,893.5 L1408.6,903.3 L1400.1,913.4 L1390.4,923.6 L1379.6,934.0 L1367.7,944.3 L1355.0,954.5 L1341.3,964.7 L1327.0,974.5 L1312.0,984.1 L1296.6,993.3 L1280.7,1002.1 L1264.5,1010.4 L1248.2,1018.0 L1231.9,1025.1" fill="none" stroke="#111" stroke-width="7" stroke-linecap="round" stroke-linejoin="round"/>
<path d="M1130,1075 L1150,1055 M1100,1062 L1090,1040" fill="none" stroke="#111" stroke-width="10" stroke-linecap="round" stroke-linejoin="round"/>
<ellipse cx="1340" cy="1059" rx="231" ry="88" transform="rotate(-31 1340 1059)" fill="#fff" stroke="#111" stroke-width="13" stroke-linecap="round" stroke-linejoin="round"/>
<path d="M1535.4,941.6 L1625.4,1107.6 L1234.6,1342.4 L1144.6,1176.4 Z" fill="#fff" stroke="none"/><path d="M1535.4,941.6 L1625.4,1107.6 M1234.6,1342.4 L1144.6,1176.4" fill="none" stroke="none"/>
<ellipse cx="1453" cy="1270" rx="322" ry="72" transform="rotate(-30.6 1453 1270)" fill="#fff" stroke="#111" stroke-width="13" stroke-linecap="round" stroke-linejoin="round"/>
<path d="M1730.2,1106.1 L1745.7,1139.8 L1191.3,1467.6 L1175.8,1433.9 Z" fill="#fff" stroke="none"/><path d="M1730.2,1106.1 L1745.7,1139.8 M1191.3,1467.6 L1175.8,1433.9" fill="none" stroke="#111" stroke-width="13" stroke-linecap="round" stroke-linejoin="round"/>
<ellipse cx="1468.5" cy="1303.7" rx="322" ry="72" transform="rotate(-30.6 1468.5 1303.7)" fill="#fff" stroke="#111" stroke-width="13" stroke-linecap="round" stroke-linejoin="round"/>
<path d="M1235,1262 L1160,1130 L1550,950 L1640,1078 Z" fill="#fff"/>
<path d="M1143.5,1188 L1225,1348 M1548.5,943 L1645,1085" fill="none" stroke="#111" stroke-width="13" stroke-linecap="round" stroke-linejoin="round"/>
<path d="M1142.0,1178.0 L1138.8,1170.9 L1137.1,1163.1 L1137.0,1154.4 L1138.4,1145.0 L1141.4,1134.9 L1145.9,1124.3 L1151.8,1113.2 L1159.2,1101.7 L1167.9,1089.8 L1178.0,1077.7 L1189.3,1065.5 L1201.7,1053.2 L1215.2,1040.9 L1229.7,1028.8 L1245.0,1016.9 L1261.0,1005.4 L1277.6,994.2 L1294.7,983.6 L1312.1,973.5 L1329.7,964.1 L1347.5,955.3 L1365.1,947.4 L1382.6,940.4 L1399.8,934.2 L1416.4,929.0 L1432.6,924.7 L1448.0,921.5 L1462.5,919.4 L1476.2,918.3 L1488.8,918.3 L1500.3,919.3 L1510.6,921.4 L1519.5,924.6 L1527.1,928.7 L1533.3,933.9 L1538.0,940.0" fill="none" stroke="#111" stroke-width="13" stroke-linecap="round" stroke-linejoin="round"/>
<path d="M1180.0,1402.8 L1186.3,1392.4 L1194.6,1381.0 L1204.9,1368.7 L1217.1,1355.7 L1231.1,1342.1 L1246.8,1327.9 L1264.0,1313.3 L1282.7,1298.3 L1302.7,1283.1 L1323.8,1267.8 L1345.9,1252.6 L1368.8,1237.4 L1392.3,1222.5 L1416.3,1208.0 L1440.6,1194.0 L1465.0,1180.5 L1489.3,1167.7 L1513.4,1155.7 L1536.9,1144.6 L1559.8,1134.4 L1581.9,1125.2 L1603.1,1117.2 L1623.1,1110.3 L1641.8,1104.6 L1659.0,1100.2 L1674.7,1097.1 L1688.7,1095.3 L1700.9,1094.8 L1711.2,1095.6" fill="none" stroke="#111" stroke-width="13" stroke-linecap="round" stroke-linejoin="round"/>
<path d="M1266.0,1414.0 L1266.1,1408.8 L1267.9,1402.9 L1271.2,1396.1 L1276.0,1388.5 L1282.4,1380.3 L1290.2,1371.4 L1299.4,1361.9 L1309.9,1352.0 L1321.7,1341.6 L1334.7,1330.8 L1348.7,1319.8 L1363.6,1308.6 L1379.4,1297.3 L1395.9,1286.0 L1413.1,1274.8 L1430.6,1263.8 L1448.5,1253.0 L1466.6,1242.5 L1484.8,1232.4 L1502.9,1222.8 L1520.7,1213.8 L1538.2,1205.4 L1555.2,1197.6 L1571.6,1190.7 L1587.3,1184.5 L1602.1,1179.2 L1615.9,1174.7 L1628.6,1171.2 L1640.2,1168.7 L1650.5,1167.1 L1659.4,1166.5" fill="none" stroke="#111" stroke-width="5" stroke-linecap="round" stroke-linejoin="round"/>
<path d="M1272.5,1416.7 L1272.7,1411.9 L1274.6,1406.3 L1277.9,1399.9 L1282.8,1392.7 L1289.1,1384.8 L1296.9,1376.3 L1306.0,1367.2 L1316.4,1357.6 L1328.0,1347.6 L1340.8,1337.2 L1354.6,1326.5 L1369.3,1315.7 L1384.8,1304.7 L1401.0,1293.7 L1417.8,1282.8 L1435.0,1272.0 L1452.6,1261.4 L1470.3,1251.1 L1488.1,1241.2 L1505.7,1231.8 L1523.2,1222.9 L1540.3,1214.6 L1556.9,1206.9 L1572.8,1200.0 L1588.1,1193.8 L1602.5,1188.4 L1615.9,1183.9 L1628.3,1180.3 L1639.5,1177.6 L1649.4,1175.8 L1658.1,1175.0" fill="none" stroke="#111" stroke-width="5" stroke-linecap="round" stroke-linejoin="round"/>
<ellipse cx="1478.5" cy="1298.7" rx="192" ry="36" transform="rotate(-30.6 1478.5 1298.7)" fill="#fff" stroke="#111" stroke-width="11" stroke-linecap="round" stroke-linejoin="round"/>
<path d="M1316,1395 C1330,1350 1400,1300 1470,1262 C1440,1295 1420,1330 1410,1358 C1380,1385 1345,1400 1316,1395 Z" fill="#111" stroke="#111" stroke-width="8" stroke-linejoin="round"/>
<path d="M1540,1290 L1585,1262" fill="none" stroke="#111" stroke-width="6" stroke-linecap="round" stroke-linejoin="round"/>
<ellipse cx="1575" cy="1418" rx="316" ry="108" transform="rotate(-30 1575 1418)" fill="#fff" stroke="#111" stroke-width="18" stroke-linecap="round" stroke-linejoin="round"/>
<ellipse cx="1575" cy="1418" rx="286" ry="84" transform="rotate(-30 1575 1418)" fill="#fff" stroke="#111" stroke-width="8" stroke-linecap="round" stroke-linejoin="round"/>
<path d="M1746.5,1415.0 L1728.3,1430.0 L1709.0,1444.8 L1688.6,1459.5 L1667.4,1473.8 L1645.5,1487.7 L1623.0,1501.1 L1600.2,1513.9 L1577.2,1525.9 L1554.1,1537.1 L1531.2,1547.4 L1508.7,1556.7 L1486.7,1565.0 L1465.3,1572.1 L1444.8,1578.1 L1425.2,1582.9 L1406.8,1586.3 L1389.7,1588.6 L1374.0,1589.5 L1359.8,1589.1 L1347.3,1587.4 L1336.5,1584.4 L1327.5,1580.2 L1320.4,1574.7 L1315.2,1568.0 L1312.0,1560.2 L1310.8,1551.3 L1311.6,1541.4 L1314.4,1530.5 L1319.2,1518.8 L1326.0,1506.3" fill="none" stroke="#111" stroke-width="3" stroke-dasharray="3 4"/>
<path d="M1572.7,1512.6 L1550.9,1523.3 L1529.4,1533.3 L1508.2,1542.4 L1487.5,1550.5 L1467.5,1557.6 L1448.3,1563.7 L1430.1,1568.6 L1412.9,1572.4 L1397.0,1575.1 L1382.5,1576.5 L1369.4,1576.7 L1357.9,1575.7 L1348.0,1573.5 L1339.9,1570.2 L1333.6,1565.6 L1329.0,1560.0 L1326.4,1553.3 L1325.7,1545.5 L1326.8,1536.8 L1329.9,1527.1 L1334.8,1516.7" fill="none" stroke="#111" stroke-width="20" stroke-linecap="round"/>
<path d="M1528.4,1516.5 L1509.0,1525.2 L1490.1,1533.0 L1471.9,1540.0 L1454.4,1546.0 L1437.9,1551.0 L1422.4,1555.1 L1408.1,1558.1 L1395.0,1560.0 L1383.3,1560.9 L1373.1,1560.6 L1364.4,1559.3 L1357.3,1556.9 L1351.8,1553.5 L1348.1,1549.0 L1346.1,1543.5 L1345.8,1537.1 L1347.3,1529.7 L1350.5,1521.6" fill="none" stroke="#111" stroke-width="12" stroke-dasharray="2 5"/>
<path d="M1493.6,1517.0 L1477.1,1523.7 L1461.3,1529.6 L1446.4,1534.7 L1432.5,1538.9 L1419.7,1542.1 L1408.0,1544.4 L1397.6,1545.8 L1388.6,1546.2 L1381.0,1545.6 L1374.8,1544.0 L1370.2,1541.5 L1367.2,1538.0 L1365.7,1533.6 L1365.8,1528.4" fill="none" stroke="#111" stroke-width="10" stroke-dasharray="1.5 7"/>
<path d="M1349.0,1504.6 L1357.4,1493.3 L1367.5,1481.4 L1379.1,1469.0 L1392.2,1456.3 L1406.8,1443.2 L1422.6,1430.0 L1439.5,1416.7 L1457.5,1403.4 L1476.4,1390.1 L1496.1,1377.1 L1516.3,1364.5 L1537.0,1352.2 L1558.0,1340.4 L1579.1,1329.2 L1600.2,1318.7 L1621.0,1309.0 L1641.6,1300.0 L1661.6,1292.0 L1681.0,1284.9 L1699.5,1278.9 L1717.1,1273.9 L1733.7,1270.0 L1749.0,1267.2 L1763.0,1265.6" fill="none" stroke="#111" stroke-width="8" stroke-dasharray="2 6"/>
<ellipse cx="1575" cy="1418" rx="270" ry="70" transform="rotate(-30 1575 1418)" fill="none" stroke="#111" stroke-width="5" stroke-dasharray="60 30"/>
<ellipse cx="1575" cy="1418" rx="38" ry="20" transform="rotate(-30 1575 1418)" fill="#fff" stroke="#111" stroke-width="11" stroke-linecap="round" stroke-linejoin="round"/>
<path d="M1585.0,1435.3 L1582.1,1436.9 L1579.1,1438.4 L1576.1,1439.6 L1573.1,1440.8 L1570.2,1441.7 L1567.2,1442.5 L1564.3,1443.1 L1561.5,1443.5 L1558.8,1443.7 L1556.2,1443.7 L1553.8,1443.5 L1551.5,1443.1 L1549.4,1442.5 L1547.5,1441.8 L1545.8,1440.8 L1544.3,1439.7 L1543.1,1438.4 L1542.1,1437.0 L1541.3,1435.4 L1540.9,1433.7 L1540.6,1431.9 L1540.7,1429.9 L1540.9,1427.9 L1541.5,1425.8 L1542.3,1423.6 L1543.4,1421.4 L1544.7,1419.2 L1546.2,1416.9 L1547.9,1414.7 L1549.9,1412.5 L1552.0,1410.3 L1554.3,1408.2 L1556.8,1406.2 L1559.4,1404.2 L1562.2,1402.4 L1565.0,1400.7" fill="none" stroke="#111" stroke-width="16" stroke-linecap="round"/>
<ellipse cx="1695" cy="1608" rx="136" ry="76" transform="rotate(-28 1695 1608)" fill="#fff" stroke="#111" stroke-width="13" stroke-linecap="round" stroke-linejoin="round"/>
<ellipse cx="1692" cy="1606" rx="100" ry="50" transform="rotate(-28 1692 1606)" fill="#fff" stroke="#111" stroke-width="10" stroke-linecap="round" stroke-linejoin="round"/>
<ellipse cx="1690" cy="1604" rx="66" ry="30" transform="rotate(-28 1690 1604)" fill="#fff" stroke="#111" stroke-width="9" stroke-linecap="round" stroke-linejoin="round"/>
<path d="M1704.1,1630.5 L1699.0,1633.1 L1693.8,1635.5 L1688.5,1637.6 L1683.3,1639.5 L1678.1,1641.1 L1673.1,1642.4 L1668.1,1643.5 L1663.3,1644.2 L1658.8,1644.6 L1654.4,1644.8 L1650.3,1644.6 L1646.6,1644.1 L1643.1,1643.3 L1640.1,1642.2 L1637.4,1640.8 L1635.1,1639.1 L1633.2,1637.2 L1631.7,1635.0 L1630.7,1632.6 L1630.2,1629.9 L1630.1,1627.1 L1630.4,1624.1 L1631.2,1620.9 L1632.5,1617.6 L1634.2,1614.2 L1636.3,1610.7 L1638.8,1607.2 L1641.8,1603.6 L1645.0,1600.1 L1648.7,1596.6 L1652.6,1593.1 L1656.8,1589.7 L1661.3,1586.4 L1666.0,1583.3 L1670.9,1580.3 L1675.9,1577.5" fill="none" stroke="#111" stroke-width="18" stroke-linecap="round"/>
<ellipse cx="1700" cy="1595" rx="28" ry="12" transform="rotate(-28 1700 1595)" fill="#fff" stroke="#111" stroke-width="7" stroke-linecap="round" stroke-linejoin="round"/>
<path d="M1745,1715 C1742,1700 1755,1692 1775,1692 C1795,1692 1805,1700 1802,1715 L1815,1770 L1800,1790 L1770,1785 Z" fill="#fff" stroke="#111" stroke-width="10" stroke-linecap="round" stroke-linejoin="round"/>
<path d="M1750,1712 L1800,1700 M1752,1725 L1804,1712 M1756,1738 L1806,1725 M1760,1750 L1810,1738" fill="none" stroke="#111" stroke-width="6" stroke-linecap="round" stroke-linejoin="round"/>
<path d="M1790,1830 L1800,1800 L1850,1782 L1895,1795 L1915,1835 L1900,1870 L1850,1900 L1810,1890 Z" fill="#fff" stroke="#111" stroke-width="11" stroke-linecap="round" stroke-linejoin="round"/>
<path d="M1790,1830 L1835,1840 L1895,1810 M1835,1840 L1848,1898 M1800,1800 L1780,1770 M1850,1782 L1815,1765" fill="none" stroke="#111" stroke-width="8" stroke-linecap="round" stroke-linejoin="round"/>
<path d="M290,1038 L575,878 C610,862 640,880 650,910 C658,935 650,950 640,955 L345,1125 C320,1140 290,1130 275,1100 C262,1070 272,1048 290,1038 Z" fill="#fff" stroke="#111" stroke-width="12" stroke-linecap="round" stroke-linejoin="round"/>
<ellipse cx="310" cy="1085" rx="36" ry="48" transform="rotate(-28 310 1085)" fill="#fff" stroke="#111" stroke-width="9" stroke-linecap="round" stroke-linejoin="round"/>
<path d="M322,1042 C345,1055 355,1085 350,1115" fill="none" stroke="#111" stroke-width="6" stroke-linecap="round" stroke-linejoin="round"/>
<g transform="translate(705,865) rotate(-18)"><ellipse cx="0" cy="0" rx="46" ry="60" fill="#fff" stroke="#111" stroke-width="10" stroke-linecap="round" stroke-linejoin="round"/><path d="M-20,-32 C5,-45 22,-20 20,5 C18,35 0,45 -20,30 L-12,18 C-2,22 2,12 2,2 C2,-10 -4,-18 -14,-14 Z" fill="#fff" stroke="#111" stroke-width="8" stroke-linecap="round" stroke-linejoin="round"/><path d="M-50,-5 L-20,-5 L-20,5 L-50,5 Z" fill="#fff"/><path d="M-44,-12 L-22,-6 M-44,12 L-22,6" fill="none" stroke="#111" stroke-width="8" stroke-linecap="round" stroke-linejoin="round"/></g>
<g transform="translate(215,1130) rotate(-18)"><ellipse cx="0" cy="0" rx="46" ry="60" fill="#fff" stroke="#111" stroke-width="10" stroke-linecap="round" stroke-linejoin="round"/><path d="M-20,-32 C5,-45 22,-20 20,5 C18,35 0,45 -20,30 L-12,18 C-2,22 2,12 2,2 C2,-10 -4,-18 -14,-14 Z" fill="#fff" stroke="#111" stroke-width="8" stroke-linecap="round" stroke-linejoin="round"/><path d="M-50,-5 L-20,-5 L-20,5 L-50,5 Z" fill="#fff"/><path d="M-44,-12 L-22,-6 M-44,12 L-22,6" fill="none" stroke="#111" stroke-width="8" stroke-linecap="round" stroke-linejoin="round"/></g>
</g>
<path class="l" d="M1650.5,751.3 L1650.5,790.1 L1582.9,825.1 M1704.3,820.1 L1704.3,847.7 L1640.5,880.2 M1741.9,889.0 L1741.9,916.5 L1690.5,942.8 M1785.7,937.8 L1785.7,965.3 L1733.1,992.9 M1378.8,886.5 L1500.3,942.8 M1378.8,886.5 L1378.8,1006.6 M1420.1,954.1 L1420.1,962.8 L1435.2,977.9 M1576.6,1136.3 L1626.7,1136.3 L1653.0,1132.6 M1576.6,1190.2 L1636.7,1190.2 L1725.6,1163.9 M1576.6,1242.8 L1648.0,1242.8 L1780.7,1211.5"/>
<!-- 70_bracket.svg -->
<g id="bracket32" transform="translate(960,1040) scale(0.25025)">
<path d="M525,735 L560,660 L630,540 C645,525 655,515 670,510 L740,478 C755,472 765,474 772,480 L800,510 L812,528 L1050,375 C1065,362 1075,350 1080,340 L1115,275 C1125,262 1135,255 1150,250 L1210,222 C1228,216 1240,220 1248,228 C1262,240 1268,255 1262,280 L1230,340 L1190,405 C1186,415 1186,422 1190,430 L1215,490 C1225,510 1235,522 1248,530 L1380,590 C1392,598 1396,605 1396,615 L1395,640 C1390,652 1382,660 1370,665 L1140,790 L1000,870 L860,945 C845,958 830,965 815,965 C800,965 790,960 780,955 L600,890 C590,885 584,878 580,870 L540,780 C530,760 525,750 525,735 Z" fill="#fff" stroke="#111" stroke-width="15" stroke-linecap="round" stroke-linejoin="round"/>
<path d="M570,725 L1175,402 M580,738 L1180,415 M640,848 L1205,545 M650,862 L1215,558 M560,700 C555,720 558,740 565,755 L600,850 C608,868 620,875 635,880 L790,935 C810,942 825,940 840,932 M815,528 L810,500 M1188,430 L1180,400" fill="none" stroke="#111" stroke-width="6" stroke-linecap="round" stroke-linejoin="round"/>
<ellipse cx="735" cy="560" rx="28" ry="19" transform="rotate(-25 735 560)" fill="#fff" stroke="#111" stroke-width="9" stroke-linecap="round" stroke-linejoin="round"/>
<ellipse cx="1168" cy="325" rx="28" ry="21" transform="rotate(-30 1168 325)" fill="#fff" stroke="#111" stroke-width="9" stroke-linecap="round" stroke-linejoin="round"/>
<ellipse cx="1290" cy="612" rx="42" ry="22" transform="rotate(5 1290 612)" fill="#fff" stroke="#111" stroke-width="9" stroke-linecap="round" stroke-linejoin="round"/>
<ellipse cx="805" cy="872" rx="42" ry="22" transform="rotate(5 805 872)" fill="#fff" stroke="#111" stroke-width="9" stroke-linecap="round" stroke-linejoin="round"/>
<path d="M1260,620 Q1290,640 1320,625 M775,880 Q805,900 835,885" fill="none" stroke="#111" stroke-width="6" stroke-linecap="round" stroke-linejoin="round"/>
<circle cx="1082" cy="738" r="8" fill="#111"/>
<path d="M800,700 C798,685 810,678 825,680 C838,682 845,690 848,700 L975,962 L940,982 Z" fill="#fff" stroke="#111" stroke-width="10" stroke-linecap="round" stroke-linejoin="round"/>
<path d="M808,715 L845,700 M813,728 L850,713 M818,741 L856,726 M824,754 L862,739 M830,767 L868,752 M836,780 L874,765 M842,793 L880,778 M848,806 L886,791" fill="none" stroke="#111" stroke-width="5" stroke-linecap="round" stroke-linejoin="round"/>
<path d="M948,985 C945,965 960,950 985,945 C1010,942 1025,950 1030,962 L1050,1005 C1052,1025 1040,1040 1015,1047 C990,1052 975,1045 968,1030 Z" fill="#fff" stroke="#111" stroke-width="11" stroke-linecap="round" stroke-linejoin="round"/>
<ellipse cx="1010" cy="1018" rx="36" ry="24" transform="rotate(-25 1010 1018)" fill="#fff" stroke="#111" stroke-width="9" stroke-linecap="round" stroke-linejoin="round"/>
<ellipse cx="1010" cy="1020" rx="16" ry="10" transform="rotate(-25 1010 1020)" fill="#fff" stroke="#111" stroke-width="7" stroke-linecap="round" stroke-linejoin="round"/>
</g>
<path class="l" d="M1230.8,1224.7 L1255.3,1261.5 L1304.1,1261.5 M1215.3,1301.5 L1225.3,1314.8 L1270.3,1314.8 M709.7,956.6 L1013,1051 L1173.2,733.7 M1013,1051 V1074 M1243.5,390 V432 L1259,450"/>
<g id="bolt6" transform="translate(200,1140) scale(0.12516)">
<path d="M915,935 L1235,765 C1270,750 1295,770 1298,800 C1300,825 1290,840 1270,850 L950,1010 Z" fill="#fff" stroke="#111" stroke-width="22" stroke-linecap="round" stroke-linejoin="round"/>
<path d="M1020,888 L1240,772 L1285,790 L1292,832 L1052,955 Z" fill="#111"/>
<path d="M1045,895 L1068,940 M1070,882 L1093,928 M1095,870 L1118,915 M1120,858 L1143,902 M1145,845 L1168,890 M1170,832 L1193,878 M1195,820 L1218,865 M1220,808 L1243,852 M1245,795 L1268,840" stroke="#fff" stroke-width="8" fill="none"/>
<path d="M705,1010 C710,975 725,945 745,928 L820,890 L880,920 C905,940 925,965 932,990 L945,1060 C940,1085 930,1100 920,1110 L850,1150 C830,1158 810,1158 795,1152 C770,1140 750,1125 738,1108 C720,1080 708,1050 705,1010 Z" fill="#fff" stroke="#111" stroke-width="24" stroke-linecap="round" stroke-linejoin="round"/>
<ellipse cx="798" cy="1035" rx="75" ry="108" transform="rotate(-18 798 1035)" fill="#fff" stroke="#111" stroke-width="20" stroke-linecap="round" stroke-linejoin="round"/>
<path d="M820,890 L860,930 L880,920 M860,930 C890,960 905,1000 908,1040 L945,1060 M908,1040 C908,1070 900,1095 890,1115" fill="none" stroke="#111" stroke-width="12" stroke-linecap="round" stroke-linejoin="round"/>
</g>
<path class="l" d="M276.3,1205 V1221.3 L294.4,1253.8"/>
<path class="c" d="M364,1235.5 L497,1166"/>
<!-- 80_leadersX.svg -->
<path class="l" d="M803.9,588.9 L803.9,603.9 L964.1,711.6 M803.9,603.9 L803.9,736.6 L827.7,771.7 M872.7,721.6 L872.7,732.9 L895.3,770.4 M977.4,540.1 L977.4,592.7 L1004.2,620.2 M1055.0,540.1 L1055.0,615.2 L1109.3,677.8 M1170.7,540.1 L1170.7,581.4 L1190.7,607.7"/>
<circle cx="896.5" cy="771.7" r="2.2" class="b"/>
<!-- 90_labels.svg -->
<g id="labels">
<text x="1282.5" y="56.7">1</text>
<text x="1282.5" y="124.7">2</text>
<text x="1282.5" y="220.1">3</text>
<text x="1282.5" y="297.6">4</text>
<text x="1222.5" y="181.1">5</text>
<text x="1241.0" y="384.1">20</text>
<text x="1556.5" y="351.1">21</text>
<text x="1614.5" y="351.1">22</text>
<text x="975.9" y="528.0">15</text>
<text x="1053.5" y="529.2">17</text>
<text x="1171.5" y="529.3">19</text>
<text x="801.5" y="582.8">13</text>
<text x="870.0" y="717.1">14</text>
<text x="358.5" y="822.0">9</text>
<text x="442.3" y="822.0">10</text>
<text x="499.8" y="822.0" style="letter-spacing:0.5px">11</text>
<text x="560.5" y="822.0">12</text>
<text x="262.5" y="966.6">7</text>
<text x="320.0" y="966.6">8</text>
<text x="275.0" y="1196.6">6</text>
<text x="1015.0" y="1106.9">18</text>
<text x="1652.8" y="746.4">23</text>
<text x="1703.1" y="815.5">24</text>
<text x="1742.5" y="883.3">27</text>
<text x="1790.5" y="929.9">28</text>
<text x="1360.5" y="881.6">25</text>
<text x="1418.5" y="950.6">26</text>
<text x="1546.5" y="1148.6">29</text>
<text x="1546.5" y="1202.6">30</text>
<text x="1546.5" y="1256.6">31</text>
<text x="1330.0" y="1277.6">32</text>
<text x="1293.5" y="1328.6">33</text>
</g>
</svg>
</body>
</html>
